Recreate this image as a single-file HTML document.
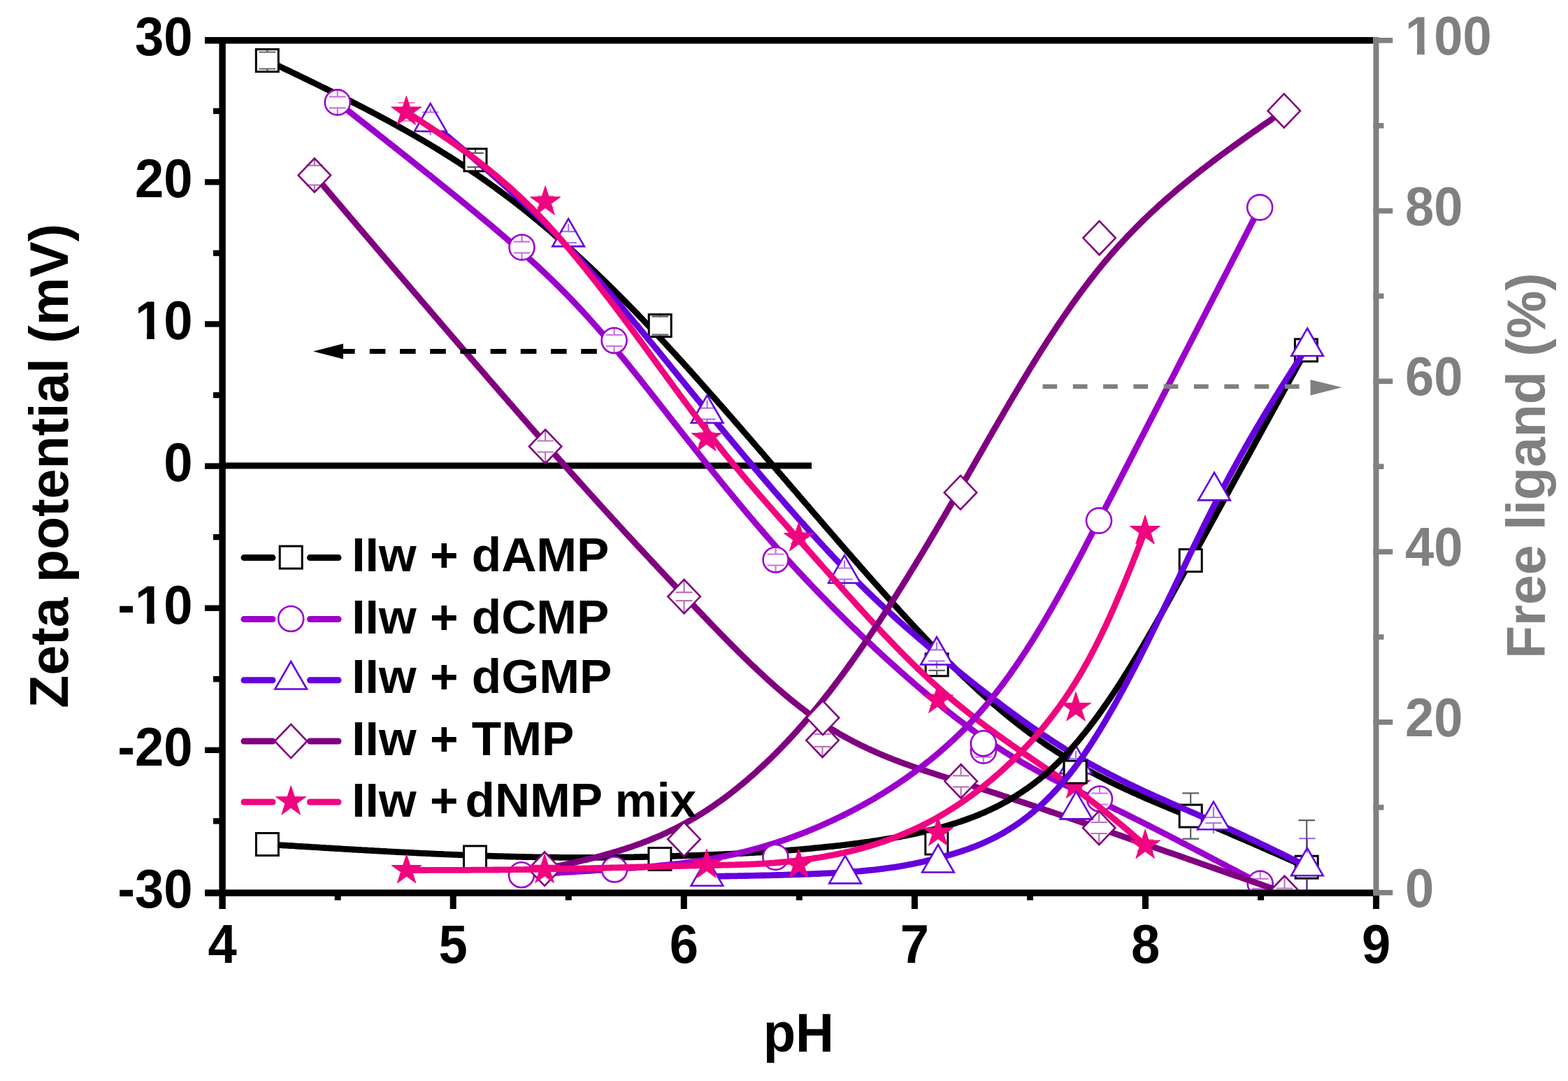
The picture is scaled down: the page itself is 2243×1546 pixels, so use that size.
<!DOCTYPE html>
<html><head><meta charset="utf-8"><title>Zeta potential vs pH</title>
<style>html,body{margin:0;padding:0;background:#fff;}svg{display:block;}</style>
</head><body>
<svg xmlns="http://www.w3.org/2000/svg" width="2243" height="1546" viewBox="0 0 2243 1546"><rect width="2243" height="1546" fill="#fff"/><defs><clipPath id="fr"><rect x="318" y="58" width="1651" height="1219"/></clipPath></defs><g clip-path="url(#fr)"><line x1="318" y1="666" x2="1161" y2="666" stroke="#000" stroke-width="9"/><path d="M382.3 86.5L385.0 87.8L387.7 89.1L390.4 90.4L393.2 91.7L395.9 93.0L398.6 94.3L401.3 95.6L404.0 96.9L406.7 98.2L409.4 99.5L412.1 100.8L414.9 102.1L417.6 103.4L420.3 104.7L423.0 106.0L425.7 107.3L428.4 108.6L431.1 109.9L433.8 111.2L436.5 112.5L439.2 113.8L441.9 115.2L444.6 116.5L447.4 117.8L450.1 119.1L452.8 120.4L455.5 121.7L458.2 123.1L460.9 124.4L463.6 125.7L466.3 127.0L469.0 128.4L471.7 129.7L474.3 131.0L477.0 132.4L479.7 133.7L482.4 135.1L485.1 136.4L487.8 137.8L490.5 139.1L493.2 140.5L495.9 141.8L498.5 143.2L501.2 144.5L503.9 145.9L506.6 147.3L509.3 148.6L511.9 150.0L514.6 151.4L517.3 152.8L520.0 154.1L522.6 155.5L525.3 156.9L528.0 158.3L530.6 159.7L533.3 161.1L535.9 162.5L538.6 163.9L541.3 165.3L543.9 166.8L546.6 168.2L549.2 169.6L551.9 171.0L554.5 172.5L557.2 173.9L559.8 175.3L562.4 176.8L565.1 178.2L567.7 179.7L570.3 181.1L573.0 182.6L575.6 184.1L578.2 185.5L580.8 187.0L583.5 188.5L586.1 190.0L588.7 191.5L591.3 193.0L593.9 194.5L596.5 196.0L599.1 197.5L601.7 199.0L604.3 200.5L606.9 202.0L609.5 203.6L612.1 205.1L614.6 206.6L617.2 208.2L619.8 209.7L622.4 211.3L624.9 212.9L627.5 214.4L630.1 216.0L632.6 217.6L635.2 219.2L637.7 220.8L640.3 222.4L642.8 224.0L645.4 225.6L647.9 227.2L650.4 228.8L653.0 230.4L655.5 232.1L658.0 233.7L660.5 235.3L663.1 237.0L665.6 238.7L668.1 240.3L670.6 242.0L673.1 243.7L675.6 245.3L678.1 247.0L680.5 248.7L683.0 250.4L685.5 252.1L688.0 253.8L690.4 255.6L692.9 257.3L695.4 259.0L697.8 260.8L700.3 262.5L702.7 264.3L705.1 266.0L707.6 267.8L710.0 269.6L712.4 271.3L714.9 273.1L717.3 274.9L719.7 276.7L722.1 278.5L724.5 280.3L726.9 282.1L729.3 283.9L731.7 285.8L734.1 287.6L736.5 289.4L738.8 291.3L741.2 293.1L743.6 295.0L746.0 296.8L748.3 298.7L750.7 300.6L753.0 302.4L755.4 304.3L757.7 306.2L760.0 308.1L762.4 310.0L764.7 311.9L767.0 313.8L769.3 315.7L771.7 317.6L774.0 319.6L776.3 321.5L778.6 323.4L780.9 325.4L783.2 327.3L785.5 329.3L787.8 331.2L790.0 333.2L792.3 335.1L794.6 337.1L796.9 339.1L799.1 341.1L801.4 343.0L803.6 345.0L805.9 347.0L808.1 349.0L810.4 351.0L812.6 353.0L814.9 355.0L817.1 357.1L819.3 359.1L821.6 361.1L823.8 363.1L826.0 365.2L828.2 367.2L830.4 369.2L832.6 371.3L834.8 373.3L837.0 375.4L839.2 377.4L841.4 379.5L843.6 381.6L845.8 383.6L848.0 385.7L850.2 387.8L852.3 389.8L854.5 391.9L856.7 394.0L858.8 396.1L861.0 398.2L863.2 400.3L865.3 402.4L867.5 404.5L869.6 406.6L871.8 408.7L873.9 410.8L876.0 412.9L878.2 415.0L880.3 417.2L882.4 419.3L884.6 421.4L886.7 423.5L888.8 425.7L890.9 427.8L893.0 429.9L895.2 432.1L897.3 434.2L899.4 436.4L901.5 438.5L903.6 440.7L905.7 442.8L907.8 445.0L909.9 447.1L912.0 449.3L914.0 451.5L916.1 453.6L918.2 455.8L920.3 458.0L922.4 460.2L924.4 462.3L926.5 464.5L928.6 466.7L930.7 468.9L932.7 471.1L934.8 473.3L936.8 475.4L938.9 477.6L941.0 479.8L943.0 482.0L945.1 484.2L947.1 486.4L949.2 488.6L951.2 490.8L953.3 493.0L955.3 495.3L957.3 497.5L959.4 499.7L961.4 501.9L963.4 504.1L965.5 506.3L967.5 508.5L969.5 510.8L971.6 513.0L973.6 515.2L975.6 517.4L977.6 519.7L979.6 521.9L981.7 524.1L983.7 526.4L985.7 528.6L987.7 530.8L989.7 533.1L991.7 535.3L993.7 537.6L995.7 539.8L997.7 542.0L999.7 544.3L1001.7 546.5L1003.7 548.8L1005.7 551.0L1007.7 553.3L1009.7 555.5L1011.7 557.8L1013.7 560.0L1015.7 562.3L1017.7 564.5L1019.7 566.8L1021.7 569.0L1023.7 571.3L1025.7 573.5L1027.6 575.8L1029.6 578.1L1031.6 580.3L1033.6 582.6L1035.6 584.8L1037.6 587.1L1039.5 589.4L1041.5 591.6L1043.5 593.9L1045.5 596.2L1047.5 598.4L1049.4 600.7L1051.4 603.0L1053.4 605.2L1055.4 607.5L1057.3 609.8L1059.3 612.0L1061.3 614.3L1063.2 616.6L1065.2 618.9L1067.2 621.1L1069.2 623.4L1071.1 625.7L1073.1 627.9L1075.1 630.2L1077.0 632.5L1079.0 634.8L1081.0 637.0L1082.9 639.3L1084.9 641.6L1086.9 643.9L1088.8 646.2L1090.8 648.4L1092.8 650.7L1094.7 653.0L1096.7 655.3L1098.7 657.5L1100.6 659.8L1102.6 662.1L1104.5 664.4L1106.5 666.7L1108.5 668.9L1110.4 671.2L1112.4 673.5L1114.4 675.8L1116.3 678.1L1118.3 680.3L1120.2 682.6L1122.2 684.9L1124.2 687.2L1126.1 689.5L1128.1 691.7L1130.1 694.0L1132.0 696.3L1134.0 698.6L1135.9 700.9L1137.9 703.1L1139.9 705.4L1141.8 707.7L1143.8 710.0L1145.7 712.3L1147.7 714.5L1149.7 716.8L1151.6 719.1L1153.6 721.4L1155.6 723.7L1157.5 725.9L1159.5 728.2L1161.4 730.5L1163.4 732.8L1165.4 735.1L1167.3 737.3L1169.3 739.6L1171.3 741.9L1173.2 744.2L1175.2 746.4L1177.1 748.7L1179.1 751.0L1181.1 753.3L1183.0 755.5L1185.0 757.8L1187.0 760.1L1188.9 762.4L1190.9 764.6L1192.9 766.9L1194.9 769.2L1196.8 771.5L1198.8 773.7L1200.8 776.0L1202.7 778.3L1204.7 780.6L1206.7 782.8L1208.7 785.1L1210.6 787.4L1212.6 789.6L1214.6 791.9L1216.6 794.2L1218.5 796.4L1220.5 798.7L1222.5 801.0L1224.5 803.2L1226.5 805.5L1228.4 807.7L1230.4 810.0L1232.4 812.3L1234.4 814.5L1236.4 816.8L1238.4 819.0L1240.4 821.3L1242.3 823.6L1244.3 825.8L1246.3 828.1L1248.3 830.3L1250.3 832.6L1252.3 834.8L1254.3 837.1L1256.3 839.3L1258.3 841.6L1260.3 843.8L1262.3 846.1L1264.3 848.3L1266.3 850.5L1268.3 852.8L1270.3 855.0L1272.3 857.2L1274.4 859.5L1276.4 861.7L1278.4 863.9L1280.4 866.2L1282.4 868.4L1284.5 870.6L1286.5 872.9L1288.5 875.1L1290.5 877.3L1292.6 879.5L1294.6 881.7L1296.6 883.9L1298.7 886.2L1300.7 888.4L1302.8 890.6L1304.8 892.8L1306.9 895.0L1308.9 897.2L1311.0 899.4L1313.0 901.6L1315.1 903.8L1317.2 905.9L1319.2 908.1L1321.3 910.3L1323.4 912.5L1325.4 914.7L1327.5 916.8L1329.6 919.0L1331.7 921.2L1333.8 923.3L1335.9 925.5L1338.0 927.6L1340.1 929.8L1342.2 932.0L1344.3 934.1L1346.4 936.2L1348.5 938.4L1350.6 940.5L1352.7 942.6L1354.9 944.8L1357.0 946.9L1359.1 949.0L1361.3 951.1L1363.4 953.2L1365.6 955.3L1367.7 957.5L1369.9 959.5L1372.0 961.6L1374.2 963.7L1376.4 965.8L1378.5 967.9L1380.7 970.0L1382.9 972.0L1385.1 974.1L1387.3 976.2L1389.5 978.2L1391.7 980.3L1393.9 982.3L1396.1 984.4L1398.3 986.4L1400.5 988.4L1402.7 990.4L1405.0 992.5L1407.2 994.5L1409.5 996.5L1411.7 998.5L1414.0 1000.5L1416.2 1002.5L1418.5 1004.4L1420.7 1006.4L1423.0 1008.4L1425.3 1010.3L1427.6 1012.3L1429.9 1014.2L1432.2 1016.2L1434.5 1018.1L1436.8 1020.0L1439.1 1021.9L1441.4 1023.8L1443.8 1025.7L1446.1 1027.6L1448.5 1029.5L1450.8 1031.4L1453.2 1033.3L1455.5 1035.1L1457.9 1037.0L1460.3 1038.8L1462.7 1040.6L1465.1 1042.5L1467.5 1044.3L1469.9 1046.1L1472.3 1047.9L1474.7 1049.7L1477.1 1051.4L1479.6 1053.2L1482.0 1055.0L1484.5 1056.7L1486.9 1058.4L1489.4 1060.2L1491.9 1061.9L1494.3 1063.6L1496.8 1065.3L1499.3 1067.0L1501.8 1068.6L1504.3 1070.3L1506.8 1071.9L1509.3 1073.6L1511.9 1075.2L1514.4 1076.8L1517.0 1078.4L1519.5 1080.0L1522.1 1081.6L1524.6 1083.2L1527.2 1084.8L1529.8 1086.3L1532.3 1087.9L1534.9 1089.4L1537.5 1090.9L1540.1 1092.4L1542.7 1093.9L1545.3 1095.4L1548.0 1096.9L1550.6 1098.4L1553.2 1099.9L1555.8 1101.3L1558.5 1102.8L1561.1 1104.2L1563.8 1105.6L1566.4 1107.0L1569.1 1108.4L1571.7 1109.8L1574.4 1111.2L1577.1 1112.6L1579.8 1114.0L1582.5 1115.3L1585.1 1116.7L1587.8 1118.0L1590.5 1119.3L1593.2 1120.6L1595.9 1122.0L1598.7 1123.3L1601.4 1124.6L1604.1 1125.8L1606.8 1127.1L1609.5 1128.4L1612.3 1129.6L1615.0 1130.9L1617.7 1132.1L1620.5 1133.4L1623.2 1134.6L1626.0 1135.8L1628.7 1137.1L1631.5 1138.3L1634.2 1139.5L1637.0 1140.7L1639.7 1141.9L1642.5 1143.1L1645.3 1144.3L1648.0 1145.4L1650.8 1146.6L1653.6 1147.8L1656.3 1149.0L1659.1 1150.1L1661.9 1151.3L1664.7 1152.4L1667.4 1153.6L1670.2 1154.8L1673.0 1155.9L1675.8 1157.1L1678.6 1158.2L1681.3 1159.4L1684.1 1160.5L1686.9 1161.7L1689.7 1162.8L1692.5 1164.0L1695.2 1165.1L1698.0 1166.3L1700.8 1167.4L1703.6 1168.6L1706.3 1169.7L1709.1 1170.9L1711.9 1172.0L1714.7 1173.2L1717.4 1174.4L1720.2 1175.5L1723.0 1176.7L1725.8 1177.9L1728.5 1179.0L1731.3 1180.2L1734.1 1181.4L1736.8 1182.5L1739.6 1183.7L1742.4 1184.9L1745.1 1186.1L1747.9 1187.3L1750.7 1188.4L1753.4 1189.6L1756.2 1190.8L1759.0 1192.0L1761.7 1193.2L1764.5 1194.4L1767.3 1195.6L1770.0 1196.8L1772.8 1198.0L1775.5 1199.2L1778.3 1200.3L1781.1 1201.5L1783.8 1202.7L1786.6 1203.9L1789.3 1205.1L1792.1 1206.3L1794.8 1207.5L1797.6 1208.7L1800.4 1209.9L1803.1 1211.1L1805.9 1212.4L1808.6 1213.6L1811.4 1214.8L1814.1 1216.0L1816.9 1217.2L1819.7 1218.4L1822.4 1219.6L1825.2 1220.8L1827.9 1222.0L1830.7 1223.2L1833.4 1224.4L1836.2 1225.6L1838.9 1226.9L1841.7 1228.1L1844.4 1229.3L1847.2 1230.5L1849.9 1231.7L1852.7 1232.9L1855.4 1234.1L1858.2 1235.3L1860.9 1236.6L1863.7 1237.8L1866.4 1239.0L1869.2 1240.2" fill="none" stroke="#000000" stroke-width="8.8" stroke-linejoin="round" stroke-linecap="butt"/><rect x="366.3" y="70.5" width="32.0" height="32.0" fill="#fff" stroke="#000000" stroke-width="3"/><rect x="664.0" y="212.8" width="32.0" height="32.0" fill="#fff" stroke="#000000" stroke-width="3"/><rect x="928.2" y="449.7" width="32.0" height="32.0" fill="#fff" stroke="#000000" stroke-width="3"/><rect x="1324.1" y="934.8" width="32.0" height="32.0" fill="#fff" stroke="#000000" stroke-width="3"/><rect x="1522.1" y="1086.6" width="32.0" height="32.0" fill="#fff" stroke="#000000" stroke-width="3"/><rect x="1687.2" y="1151.0" width="32.0" height="32.0" fill="#fff" stroke="#000000" stroke-width="3"/><rect x="1853.2" y="1224.2" width="32.0" height="32.0" fill="#fff" stroke="#000000" stroke-width="3"/><path d="M382.3 69.0L382.3 74.5M370.5 74.5L394.1 74.5M382.3 104.0L382.3 98.5M370.5 98.5L394.1 98.5M680.0 211.3L680.0 218.8M668.2 218.8L691.8 218.8M680.0 246.3L680.0 238.8M668.2 238.8L691.8 238.8M944.2 448.2L944.2 452.7M932.4 452.7L956.0 452.7M944.2 483.2L944.2 478.7M932.4 478.7L956.0 478.7M1340.1 933.3L1340.1 942.8M1328.3 942.8L1351.9 942.8M1340.1 968.3L1340.1 958.8M1328.3 958.8L1351.9 958.8M1538.1 1085.1L1538.1 1094.6M1526.3 1094.6L1549.9 1094.6M1538.1 1120.1L1538.1 1110.6M1526.3 1110.6L1549.9 1110.6M1703.2 1149.5L1703.2 1134.3M1691.4 1134.3L1715.0 1134.3M1703.2 1184.5L1703.2 1199.7M1691.4 1199.7L1715.0 1199.7M1869.2 1222.7L1869.2 1173.2M1857.4 1173.2L1881.0 1173.2M1869.2 1257.7L1869.2 1307.2M1857.4 1307.2L1881.0 1307.2" stroke="#000" stroke-opacity="0.62" stroke-width="2.2" fill="none"/><path d="M482.8 146.4L485.2 148.3L487.5 150.1L489.9 152.0L492.3 153.8L494.6 155.7L497.0 157.5L499.3 159.4L501.7 161.3L504.1 163.1L506.4 165.0L508.8 166.8L511.1 168.7L513.5 170.6L515.9 172.4L518.2 174.3L520.6 176.1L523.0 178.0L525.3 179.8L527.7 181.7L530.0 183.6L532.4 185.4L534.8 187.3L537.1 189.1L539.5 191.0L541.8 192.9L544.2 194.7L546.6 196.6L548.9 198.5L551.3 200.3L553.6 202.2L556.0 204.0L558.3 205.9L560.7 207.8L563.1 209.6L565.4 211.5L567.8 213.4L570.1 215.2L572.5 217.1L574.8 219.0L577.2 220.8L579.5 222.7L581.9 224.6L584.3 226.4L586.6 228.3L589.0 230.2L591.3 232.1L593.7 233.9L596.0 235.8L598.4 237.7L600.7 239.6L603.1 241.4L605.4 243.3L607.8 245.2L610.1 247.1L612.4 248.9L614.8 250.8L617.1 252.7L619.5 254.6L621.8 256.5L624.2 258.3L626.5 260.2L628.8 262.1L631.2 264.0L633.5 265.9L635.9 267.8L638.2 269.7L640.5 271.6L642.9 273.4L645.2 275.3L647.5 277.2L649.9 279.1L652.2 281.0L654.5 282.9L656.9 284.8L659.2 286.7L661.5 288.6L663.8 290.5L666.2 292.4L668.5 294.3L670.8 296.2L673.1 298.2L675.4 300.1L677.8 302.0L680.1 303.9L682.4 305.8L684.7 307.7L687.0 309.7L689.3 311.6L691.6 313.5L693.9 315.4L696.3 317.4L698.6 319.3L700.9 321.2L703.2 323.1L705.5 325.1L707.8 327.0L710.0 329.0L712.3 330.9L714.6 332.9L716.9 334.8L719.2 336.8L721.5 338.7L723.8 340.7L726.0 342.6L728.3 344.6L730.6 346.6L732.9 348.5L735.1 350.5L737.4 352.5L739.6 354.5L741.9 356.5L744.2 358.4L746.4 360.4L748.7 362.4L750.9 364.4L753.1 366.4L755.4 368.4L757.6 370.5L759.8 372.5L762.1 374.5L764.3 376.5L766.5 378.6L768.7 380.6L770.9 382.6L773.1 384.7L775.3 386.7L777.5 388.8L779.7 390.9L781.8 392.9L784.0 395.0L786.2 397.1L788.4 399.2L790.5 401.3L792.7 403.3L794.8 405.5L797.0 407.6L799.1 409.7L801.2 411.8L803.3 413.9L805.5 416.1L807.6 418.2L809.7 420.3L811.8 422.5L813.9 424.6L816.0 426.8L818.1 429.0L820.1 431.1L822.2 433.3L824.3 435.5L826.3 437.7L828.4 439.9L830.4 442.1L832.5 444.3L834.5 446.5L836.5 448.7L838.6 450.9L840.6 453.2L842.6 455.4L844.6 457.6L846.6 459.9L848.6 462.1L850.6 464.4L852.6 466.6L854.6 468.9L856.5 471.1L858.5 473.4L860.5 475.7L862.5 477.9L864.4 480.2L866.4 482.5L868.3 484.8L870.3 487.1L872.2 489.4L874.1 491.7L876.1 494.0L878.0 496.3L879.9 498.6L881.8 500.9L883.8 503.2L885.7 505.5L887.6 507.9L889.5 510.2L891.4 512.5L893.3 514.8L895.2 517.2L897.1 519.5L899.0 521.8L900.9 524.2L902.7 526.5L904.6 528.9L906.5 531.2L908.4 533.5L910.3 535.9L912.1 538.2L914.0 540.6L915.9 542.9L917.7 545.3L919.6 547.7L921.5 550.0L923.3 552.4L925.2 554.7L927.1 557.1L928.9 559.4L930.8 561.8L932.7 564.2L934.5 566.5L936.4 568.9L938.2 571.3L940.1 573.6L941.9 576.0L943.8 578.3L945.6 580.7L947.5 583.1L949.4 585.4L951.2 587.8L953.1 590.2L954.9 592.5L956.8 594.9L958.6 597.3L960.5 599.6L962.3 602.0L964.2 604.4L966.0 606.7L967.9 609.1L969.8 611.4L971.6 613.8L973.5 616.2L975.3 618.5L977.2 620.9L979.0 623.3L980.9 625.6L982.8 628.0L984.6 630.3L986.5 632.7L988.4 635.1L990.2 637.4L992.1 639.8L993.9 642.1L995.8 644.5L997.7 646.8L999.5 649.2L1001.4 651.5L1003.3 653.9L1005.2 656.2L1007.0 658.6L1008.9 660.9L1010.8 663.3L1012.7 665.6L1014.5 668.0L1016.4 670.3L1018.3 672.7L1020.2 675.0L1022.1 677.4L1024.0 679.7L1025.9 682.0L1027.7 684.4L1029.6 686.7L1031.5 689.0L1033.4 691.4L1035.3 693.7L1037.2 696.0L1039.1 698.4L1041.0 700.7L1042.9 703.0L1044.8 705.3L1046.7 707.7L1048.7 710.0L1050.6 712.3L1052.5 714.6L1054.4 716.9L1056.3 719.2L1058.2 721.5L1060.2 723.8L1062.1 726.2L1064.0 728.5L1066.0 730.8L1067.9 733.1L1069.8 735.4L1071.8 737.7L1073.7 740.0L1075.6 742.2L1077.6 744.5L1079.5 746.8L1081.5 749.1L1083.4 751.4L1085.4 753.7L1087.4 756.0L1089.3 758.2L1091.3 760.5L1093.3 762.8L1095.2 765.0L1097.2 767.3L1099.2 769.6L1101.2 771.8L1103.1 774.1L1105.1 776.4L1107.1 778.6L1109.1 780.9L1111.1 783.1L1113.1 785.4L1115.1 787.6L1117.1 789.8L1119.1 792.1L1121.1 794.3L1123.1 796.5L1125.1 798.8L1127.2 801.0L1129.2 803.2L1131.2 805.4L1133.2 807.7L1135.3 809.9L1137.3 812.1L1139.3 814.3L1141.4 816.5L1143.4 818.7L1145.5 820.9L1147.5 823.1L1149.6 825.3L1151.6 827.5L1153.7 829.7L1155.8 831.8L1157.8 834.0L1159.9 836.2L1162.0 838.4L1164.0 840.6L1166.1 842.7L1168.2 844.9L1170.3 847.1L1172.4 849.2L1174.5 851.4L1176.6 853.5L1178.7 855.7L1180.8 857.8L1182.9 860.0L1185.0 862.1L1187.1 864.3L1189.2 866.4L1191.3 868.6L1193.4 870.7L1195.5 872.8L1197.7 874.9L1199.8 877.1L1201.9 879.2L1204.0 881.3L1206.2 883.4L1208.3 885.5L1210.5 887.7L1212.6 889.8L1214.7 891.9L1216.9 894.0L1219.0 896.1L1221.2 898.2L1223.4 900.3L1225.5 902.3L1227.7 904.4L1229.8 906.5L1232.0 908.6L1234.2 910.7L1236.4 912.7L1238.5 914.8L1240.7 916.9L1242.9 918.9L1245.1 921.0L1247.3 923.1L1249.5 925.1L1251.7 927.2L1253.9 929.2L1256.1 931.3L1258.3 933.3L1260.5 935.4L1262.7 937.4L1264.9 939.4L1267.1 941.5L1269.3 943.5L1271.6 945.5L1273.8 947.5L1276.0 949.5L1278.2 951.5L1280.5 953.6L1282.7 955.6L1285.0 957.6L1287.2 959.6L1289.4 961.6L1291.7 963.5L1294.0 965.5L1296.2 967.5L1298.5 969.5L1300.7 971.5L1303.0 973.4L1305.3 975.4L1307.5 977.4L1309.8 979.3L1312.1 981.3L1314.4 983.2L1316.7 985.2L1319.0 987.1L1321.3 989.1L1323.6 991.0L1325.9 992.9L1328.2 994.9L1330.5 996.8L1332.8 998.7L1335.1 1000.6L1337.4 1002.5L1339.8 1004.4L1342.1 1006.3L1344.4 1008.2L1346.8 1010.1L1349.1 1012.0L1351.5 1013.9L1353.8 1015.7L1356.2 1017.6L1358.5 1019.5L1360.9 1021.3L1363.3 1023.2L1365.6 1025.0L1368.0 1026.9L1370.4 1028.7L1372.8 1030.5L1375.2 1032.3L1377.6 1034.1L1380.0 1035.9L1382.4 1037.7L1384.8 1039.5L1387.2 1041.3L1389.7 1043.1L1392.1 1044.8L1394.5 1046.6L1397.0 1048.3L1399.4 1050.1L1401.9 1051.8L1404.3 1053.5L1406.8 1055.3L1409.3 1057.0L1411.8 1058.7L1414.2 1060.4L1416.7 1062.0L1419.2 1063.7L1421.7 1065.4L1424.2 1067.0L1426.8 1068.7L1429.3 1070.3L1431.8 1071.9L1434.3 1073.5L1436.9 1075.2L1439.4 1076.7L1442.0 1078.3L1444.5 1079.9L1447.1 1081.5L1449.7 1083.0L1452.3 1084.6L1454.8 1086.1L1457.4 1087.6L1460.0 1089.1L1462.6 1090.7L1465.2 1092.1L1467.8 1093.6L1470.5 1095.1L1473.1 1096.6L1475.7 1098.0L1478.4 1099.5L1481.0 1100.9L1483.6 1102.3L1486.3 1103.8L1488.9 1105.2L1491.6 1106.6L1494.3 1108.0L1496.9 1109.3L1499.6 1110.7L1502.3 1112.1L1505.0 1113.5L1507.6 1114.8L1510.3 1116.2L1513.0 1117.5L1515.7 1118.8L1518.4 1120.2L1521.1 1121.5L1523.8 1122.8L1526.5 1124.1L1529.2 1125.4L1531.9 1126.7L1534.6 1128.0L1537.3 1129.3L1540.1 1130.6L1542.8 1131.9L1545.5 1133.2L1548.2 1134.5L1550.9 1135.8L1553.6 1137.0L1556.4 1138.3L1559.1 1139.6L1561.8 1140.9L1564.5 1142.2L1567.2 1143.5L1569.9 1144.7L1572.7 1146.0L1575.4 1147.3L1578.1 1148.6L1580.8 1149.9L1583.5 1151.2L1586.2 1152.5L1588.9 1153.8L1591.6 1155.1L1594.3 1156.4L1597.0 1157.8L1599.7 1159.1L1602.4 1160.4L1605.1 1161.7L1607.8 1163.0L1610.5 1164.4L1613.2 1165.7L1615.9 1167.0L1618.6 1168.4L1621.3 1169.7L1624.0 1171.1L1626.7 1172.4L1629.4 1173.7L1632.0 1175.1L1634.7 1176.4L1637.4 1177.8L1640.1 1179.1L1642.8 1180.5L1645.5 1181.9L1648.1 1183.2L1650.8 1184.6L1653.5 1185.9L1656.2 1187.3L1658.9 1188.7L1661.5 1190.0L1664.2 1191.4L1666.9 1192.8L1669.6 1194.1L1672.2 1195.5L1674.9 1196.9L1677.6 1198.3L1680.3 1199.6L1682.9 1201.0L1685.6 1202.4L1688.3 1203.8L1690.9 1205.2L1693.6 1206.5L1696.3 1207.9L1698.9 1209.3L1701.6 1210.7L1704.3 1212.1L1706.9 1213.5L1709.6 1214.9L1712.3 1216.2L1714.9 1217.6L1717.6 1219.0L1720.3 1220.4L1722.9 1221.8L1725.6 1223.2L1728.2 1224.6L1730.9 1226.0L1733.6 1227.4L1736.2 1228.8L1738.9 1230.2L1741.6 1231.6L1744.2 1233.0L1746.9 1234.4L1749.5 1235.8L1752.2 1237.2L1754.9 1238.6L1757.5 1240.0L1760.2 1241.4L1762.8 1242.8L1765.5 1244.2L1768.1 1245.6L1770.8 1247.0L1773.5 1248.4L1776.1 1249.8L1778.8 1251.2L1781.4 1252.6L1784.1 1254.0L1786.8 1255.4L1789.4 1256.8L1792.1 1258.2L1794.7 1259.6L1797.4 1261.0L1800.0 1262.4L1802.7 1263.8" fill="none" stroke="#9c00cc" stroke-width="8.8" stroke-linejoin="round" stroke-linecap="butt"/><circle cx="482.8" cy="146.4" r="18" fill="#fff" stroke="#9c00cc" stroke-width="2.6"/><circle cx="746.5" cy="353.7" r="18" fill="#fff" stroke="#9c00cc" stroke-width="2.6"/><circle cx="878.6" cy="487.0" r="18" fill="#fff" stroke="#9c00cc" stroke-width="2.6"/><circle cx="1109.6" cy="800.5" r="18" fill="#fff" stroke="#9c00cc" stroke-width="2.6"/><circle cx="1406.8" cy="1073.7" r="18" fill="#fff" stroke="#9c00cc" stroke-width="2.6"/><circle cx="1573.0" cy="1142.5" r="18" fill="#fff" stroke="#9c00cc" stroke-width="2.6"/><circle cx="1802.7" cy="1263.8" r="18" fill="#fff" stroke="#9c00cc" stroke-width="2.6"/><path d="M482.8 127.4L482.8 138.4M471.0 138.4L494.6 138.4M482.8 165.4L482.8 154.4M471.0 154.4L494.6 154.4M746.5 334.7L746.5 345.7M734.7 345.7L758.3 345.7M746.5 372.7L746.5 361.7M734.7 361.7L758.3 361.7M878.6 468.0L878.6 479.0M866.8 479.0L890.4 479.0M878.6 506.0L878.6 495.0M866.8 495.0L890.4 495.0M1109.6 781.5L1109.6 792.5M1097.8 792.5L1121.4 792.5M1109.6 819.5L1109.6 808.5M1097.8 808.5L1121.4 808.5M1406.8 1054.7L1406.8 1064.7M1395.0 1064.7L1418.6 1064.7M1406.8 1092.7L1406.8 1082.7M1395.0 1082.7L1418.6 1082.7M1573.0 1123.5L1573.0 1134.5M1561.2 1134.5L1584.8 1134.5M1573.0 1161.5L1573.0 1150.5M1561.2 1150.5L1584.8 1150.5M1802.7 1244.8L1802.7 1256.8M1790.9 1256.8L1814.5 1256.8M1802.7 1282.8L1802.7 1270.8M1790.9 1270.8L1814.5 1270.8" stroke="#9c00cc" stroke-opacity="0.55" stroke-width="2.2" fill="none"/><path d="M615.7 174.5L618.0 176.4L620.3 178.4L622.6 180.3L624.9 182.2L627.2 184.1L629.6 186.1L631.9 188.0L634.2 189.9L636.5 191.9L638.8 193.8L641.1 195.7L643.4 197.6L645.7 199.6L648.0 201.5L650.3 203.5L652.6 205.4L654.9 207.3L657.2 209.3L659.5 211.2L661.8 213.1L664.1 215.1L666.4 217.0L668.7 219.0L671.0 220.9L673.3 222.9L675.6 224.8L677.8 226.8L680.1 228.8L682.4 230.7L684.7 232.7L687.0 234.6L689.2 236.6L691.5 238.6L693.8 240.5L696.1 242.5L698.3 244.5L700.6 246.5L702.8 248.5L705.1 250.4L707.4 252.4L709.6 254.4L711.9 256.4L714.1 258.4L716.4 260.4L718.6 262.4L720.9 264.4L723.1 266.4L725.3 268.4L727.6 270.5L729.8 272.5L732.0 274.5L734.2 276.5L736.5 278.6L738.7 280.6L740.9 282.6L743.1 284.7L745.3 286.7L747.5 288.8L749.7 290.8L751.9 292.9L754.1 294.9L756.3 297.0L758.5 299.1L760.6 301.1L762.8 303.2L765.0 305.3L767.2 307.4L769.3 309.5L771.5 311.6L773.6 313.7L775.8 315.8L777.9 317.9L780.1 320.0L782.2 322.1L784.3 324.2L786.5 326.3L788.6 328.5L790.7 330.6L792.8 332.7L795.0 334.9L797.1 337.0L799.2 339.2L801.3 341.3L803.4 343.5L805.5 345.6L807.5 347.8L809.6 350.0L811.7 352.2L813.8 354.3L815.8 356.5L817.9 358.7L820.0 360.9L822.0 363.1L824.1 365.3L826.1 367.5L828.2 369.7L830.2 371.9L832.2 374.1L834.2 376.4L836.3 378.6L838.3 380.8L840.3 383.1L842.3 385.3L844.3 387.5L846.3 389.8L848.3 392.0L850.3 394.3L852.3 396.5L854.3 398.8L856.3 401.0L858.3 403.3L860.3 405.5L862.3 407.8L864.2 410.1L866.2 412.3L868.2 414.6L870.2 416.9L872.1 419.2L874.1 421.4L876.1 423.7L878.0 426.0L880.0 428.3L881.9 430.6L883.9 432.9L885.8 435.2L887.8 437.5L889.7 439.7L891.7 442.0L893.6 444.3L895.5 446.6L897.5 448.9L899.4 451.2L901.3 453.6L903.3 455.9L905.2 458.2L907.1 460.5L909.0 462.8L911.0 465.1L912.9 467.4L914.8 469.7L916.7 472.0L918.6 474.4L920.6 476.7L922.5 479.0L924.4 481.3L926.3 483.6L928.2 486.0L930.1 488.3L932.0 490.6L933.9 492.9L935.9 495.3L937.8 497.6L939.7 499.9L941.6 502.2L943.5 504.6L945.4 506.9L947.3 509.2L949.2 511.6L951.1 513.9L953.0 516.2L954.9 518.6L956.8 520.9L958.7 523.2L960.6 525.5L962.5 527.9L964.4 530.2L966.3 532.5L968.2 534.9L970.1 537.2L972.0 539.5L973.9 541.9L975.8 544.2L977.7 546.5L979.6 548.9L981.5 551.2L983.4 553.5L985.3 555.9L987.2 558.2L989.1 560.5L991.0 562.9L992.9 565.2L994.8 567.5L996.7 569.9L998.6 572.2L1000.5 574.5L1002.4 576.9L1004.3 579.2L1006.2 581.5L1008.1 583.8L1010.0 586.2L1011.9 588.5L1013.8 590.8L1015.7 593.1L1017.6 595.5L1019.6 597.8L1021.5 600.1L1023.4 602.4L1025.3 604.7L1027.2 607.1L1029.1 609.4L1031.0 611.7L1033.0 614.0L1034.9 616.3L1036.8 618.6L1038.7 621.0L1040.6 623.3L1042.6 625.6L1044.5 627.9L1046.4 630.2L1048.3 632.5L1050.3 634.8L1052.2 637.1L1054.1 639.4L1056.1 641.7L1058.0 644.0L1059.9 646.3L1061.9 648.7L1063.8 651.0L1065.7 653.3L1067.7 655.6L1069.6 657.9L1071.6 660.1L1073.5 662.4L1075.5 664.7L1077.4 667.0L1079.3 669.3L1081.3 671.6L1083.2 673.9L1085.2 676.2L1087.1 678.5L1089.1 680.8L1091.1 683.1L1093.0 685.3L1095.0 687.6L1096.9 689.9L1098.9 692.2L1100.9 694.5L1102.8 696.8L1104.8 699.0L1106.7 701.3L1108.7 703.6L1110.7 705.9L1112.7 708.1L1114.6 710.4L1116.6 712.7L1118.6 714.9L1120.6 717.2L1122.5 719.5L1124.5 721.7L1126.5 724.0L1128.5 726.2L1130.5 728.5L1132.5 730.8L1134.5 733.0L1136.5 735.3L1138.4 737.5L1140.4 739.8L1142.4 742.0L1144.4 744.3L1146.4 746.5L1148.5 748.7L1150.5 751.0L1152.5 753.2L1154.5 755.5L1156.5 757.7L1158.5 759.9L1160.5 762.2L1162.5 764.4L1164.6 766.6L1166.6 768.8L1168.6 771.1L1170.7 773.3L1172.7 775.5L1174.7 777.7L1176.8 779.9L1178.8 782.1L1180.8 784.3L1182.9 786.5L1184.9 788.7L1187.0 790.9L1189.1 793.1L1191.1 795.3L1193.2 797.5L1195.2 799.7L1197.3 801.9L1199.4 804.1L1201.5 806.2L1203.5 808.4L1205.6 810.6L1207.7 812.7L1209.8 814.9L1211.9 817.1L1214.0 819.2L1216.1 821.4L1218.2 823.5L1220.3 825.7L1222.4 827.8L1224.6 829.9L1226.7 832.1L1228.8 834.2L1230.9 836.3L1233.1 838.4L1235.2 840.5L1237.4 842.7L1239.5 844.8L1241.7 846.9L1243.8 849.0L1246.0 851.0L1248.1 853.1L1250.3 855.2L1252.5 857.3L1254.7 859.4L1256.9 861.4L1259.0 863.5L1261.2 865.6L1263.4 867.6L1265.6 869.7L1267.8 871.7L1270.1 873.7L1272.3 875.8L1274.5 877.8L1276.7 879.8L1278.9 881.9L1281.2 883.9L1283.4 885.9L1285.6 887.9L1287.9 889.9L1290.1 891.9L1292.4 893.9L1294.6 895.9L1296.9 897.9L1299.2 899.9L1301.4 901.8L1303.7 903.8L1306.0 905.8L1308.2 907.7L1310.5 909.7L1312.8 911.7L1315.1 913.6L1317.4 915.6L1319.7 917.5L1322.0 919.5L1324.3 921.4L1326.6 923.4L1328.9 925.3L1331.2 927.2L1333.5 929.2L1335.8 931.1L1338.1 933.0L1340.4 934.9L1342.7 936.9L1345.0 938.8L1347.3 940.7L1349.7 942.6L1352.0 944.5L1354.3 946.4L1356.6 948.3L1359.0 950.2L1361.3 952.1L1363.6 954.0L1366.0 955.9L1368.3 957.8L1370.6 959.7L1373.0 961.6L1375.3 963.5L1377.6 965.4L1380.0 967.3L1382.3 969.2L1384.7 971.0L1387.0 972.9L1389.4 974.8L1391.7 976.7L1394.1 978.5L1396.5 980.4L1398.8 982.3L1401.2 984.1L1403.6 986.0L1405.9 987.8L1408.3 989.7L1410.7 991.5L1413.1 993.4L1415.4 995.2L1417.8 997.0L1420.2 998.9L1422.6 1000.7L1425.0 1002.5L1427.4 1004.3L1429.8 1006.1L1432.2 1008.0L1434.6 1009.8L1437.0 1011.6L1439.4 1013.4L1441.8 1015.1L1444.3 1016.9L1446.7 1018.7L1449.1 1020.5L1451.5 1022.3L1454.0 1024.0L1456.4 1025.8L1458.8 1027.6L1461.3 1029.3L1463.7 1031.1L1466.2 1032.8L1468.6 1034.6L1471.1 1036.3L1473.5 1038.0L1476.0 1039.8L1478.5 1041.5L1481.0 1043.2L1483.4 1044.9L1485.9 1046.6L1488.4 1048.3L1490.9 1050.0L1493.4 1051.6L1495.9 1053.3L1498.4 1055.0L1500.9 1056.7L1503.4 1058.3L1505.9 1060.0L1508.4 1061.6L1511.0 1063.2L1513.5 1064.9L1516.0 1066.5L1518.6 1068.1L1521.1 1069.7L1523.7 1071.3L1526.2 1072.9L1528.8 1074.4L1531.4 1076.0L1533.9 1077.6L1536.5 1079.1L1539.1 1080.7L1541.7 1082.2L1544.3 1083.7L1546.9 1085.2L1549.5 1086.7L1552.1 1088.2L1554.7 1089.7L1557.3 1091.2L1559.9 1092.7L1562.6 1094.1L1565.2 1095.6L1567.9 1097.0L1570.5 1098.4L1573.1 1099.9L1575.8 1101.3L1578.5 1102.7L1581.1 1104.1L1583.8 1105.5L1586.4 1106.9L1589.1 1108.3L1591.8 1109.6L1594.5 1111.0L1597.2 1112.4L1599.9 1113.7L1602.5 1115.1L1605.2 1116.4L1607.9 1117.7L1610.6 1119.0L1613.3 1120.4L1616.0 1121.7L1618.8 1123.0L1621.5 1124.3L1624.2 1125.6L1626.9 1126.8L1629.6 1128.1L1632.4 1129.4L1635.1 1130.7L1637.8 1131.9L1640.5 1133.2L1643.3 1134.4L1646.0 1135.7L1648.8 1136.9L1651.5 1138.2L1654.2 1139.4L1657.0 1140.6L1659.7 1141.9L1662.5 1143.1L1665.2 1144.3L1668.0 1145.5L1670.7 1146.8L1673.5 1148.0L1676.2 1149.2L1679.0 1150.4L1681.7 1151.6L1684.5 1152.8L1687.2 1154.0L1690.0 1155.2L1692.8 1156.4L1695.5 1157.6L1698.3 1158.8L1701.0 1160.0L1703.8 1161.2L1706.6 1162.4L1709.3 1163.6L1712.1 1164.8L1714.8 1166.0L1717.6 1167.2L1720.3 1168.4L1723.1 1169.7L1725.8 1170.9L1728.6 1172.1L1731.3 1173.3L1734.1 1174.5L1736.8 1175.8L1739.6 1177.0L1742.3 1178.2L1745.1 1179.5L1747.8 1180.7L1750.5 1181.9L1753.3 1183.2L1756.0 1184.4L1758.7 1185.7L1761.5 1186.9L1764.2 1188.2L1766.9 1189.5L1769.7 1190.7L1772.4 1192.0L1775.1 1193.3L1777.9 1194.5L1780.6 1195.8L1783.3 1197.1L1786.0 1198.4L1788.7 1199.7L1791.5 1200.9L1794.2 1202.2L1796.9 1203.5L1799.6 1204.8L1802.3 1206.1L1805.0 1207.4L1807.7 1208.7L1810.5 1210.0L1813.2 1211.3L1815.9 1212.6L1818.6 1213.9L1821.3 1215.3L1824.0 1216.6L1826.7 1217.9L1829.4 1219.2L1832.1 1220.5L1834.8 1221.8L1837.5 1223.2L1840.2 1224.5L1842.9 1225.8L1845.6 1227.1L1848.3 1228.5L1851.0 1229.8L1853.7 1231.1L1856.4 1232.4L1859.1 1233.8L1861.8 1235.1L1864.5 1236.4L1867.2 1237.8L1869.9 1239.1" fill="none" stroke="#6600dd" stroke-width="8.8" stroke-linejoin="round" stroke-linecap="butt"/><polygon points="615.7,148.2 638.5,187.7 592.9,187.7" fill="#fff" stroke="#6600dd" stroke-width="2.6" stroke-linejoin="miter"/><polygon points="813.1,312.9 835.9,352.4 790.3,352.4" fill="#fff" stroke="#6600dd" stroke-width="2.6" stroke-linejoin="miter"/><polygon points="1011.6,565.3 1034.4,604.8 988.8,604.8" fill="#fff" stroke="#6600dd" stroke-width="2.6" stroke-linejoin="miter"/><polygon points="1208.0,794.2 1230.8,833.7 1185.2,833.7" fill="#fff" stroke="#6600dd" stroke-width="2.6" stroke-linejoin="miter"/><polygon points="1339.9,911.0 1362.7,950.5 1317.1,950.5" fill="#fff" stroke="#6600dd" stroke-width="2.6" stroke-linejoin="miter"/><polygon points="1539.0,1066.7 1561.8,1106.2 1516.2,1106.2" fill="#fff" stroke="#6600dd" stroke-width="2.6" stroke-linejoin="miter"/><polygon points="1735.9,1146.7 1758.7,1186.2 1713.1,1186.2" fill="#fff" stroke="#6600dd" stroke-width="2.6" stroke-linejoin="miter"/><polygon points="1869.9,1212.8 1892.7,1252.3 1847.1,1252.3" fill="#fff" stroke="#6600dd" stroke-width="2.6" stroke-linejoin="miter"/><path d="M615.7 155.5L615.7 160.5M603.9 160.5L627.5 160.5M615.7 193.5L615.7 188.5M603.9 188.5L627.5 188.5M813.1 320.2L813.1 331.2M801.3 331.2L824.9 331.2M813.1 358.2L813.1 347.2M801.3 347.2L824.9 347.2M1011.6 572.6L1011.6 583.6M999.8 583.6L1023.4 583.6M1011.6 610.6L1011.6 599.6M999.8 599.6L1023.4 599.6M1208.0 801.5L1208.0 812.5M1196.2 812.5L1219.8 812.5M1208.0 839.5L1208.0 828.5M1196.2 828.5L1219.8 828.5M1339.9 918.3L1339.9 929.3M1328.1 929.3L1351.7 929.3M1339.9 956.3L1339.9 945.3M1328.1 945.3L1351.7 945.3M1539.0 1074.0L1539.0 1085.0M1527.2 1085.0L1550.8 1085.0M1539.0 1112.0L1539.0 1101.0M1527.2 1101.0L1550.8 1101.0M1735.9 1154.0L1735.9 1169.0M1724.1 1169.0L1747.7 1169.0M1735.9 1192.0L1735.9 1177.0M1724.1 1177.0L1747.7 1177.0M1869.9 1220.1L1869.9 1199.1M1858.1 1199.1L1881.7 1199.1M1869.9 1258.1L1869.9 1279.1M1858.1 1279.1L1881.7 1279.1" stroke="#6600dd" stroke-opacity="0.55" stroke-width="2.2" fill="none"/><path d="M449.9 250.7L451.9 253.0L453.8 255.3L455.8 257.6L457.7 259.9L459.7 262.2L461.6 264.4L463.6 266.7L465.5 269.0L467.5 271.3L469.4 273.6L471.4 275.9L473.3 278.2L475.3 280.5L477.2 282.8L479.2 285.1L481.1 287.4L483.1 289.7L485.0 291.9L487.0 294.2L488.9 296.5L490.9 298.8L492.8 301.1L494.8 303.4L496.7 305.7L498.7 308.0L500.6 310.3L502.6 312.6L504.5 314.9L506.5 317.1L508.4 319.4L510.4 321.7L512.3 324.0L514.3 326.3L516.3 328.6L518.2 330.9L520.2 333.2L522.1 335.5L524.1 337.8L526.0 340.1L528.0 342.3L529.9 344.6L531.9 346.9L533.8 349.2L535.8 351.5L537.7 353.8L539.7 356.1L541.6 358.4L543.6 360.7L545.5 363.0L547.5 365.2L549.5 367.5L551.4 369.8L553.4 372.1L555.3 374.4L557.3 376.7L559.2 379.0L561.2 381.3L563.1 383.6L565.1 385.8L567.0 388.1L569.0 390.4L570.9 392.7L572.9 395.0L574.9 397.3L576.8 399.6L578.8 401.9L580.7 404.1L582.7 406.4L584.6 408.7L586.6 411.0L588.5 413.3L590.5 415.6L592.5 417.9L594.4 420.2L596.4 422.4L598.3 424.7L600.3 427.0L602.2 429.3L604.2 431.6L606.2 433.9L608.1 436.2L610.1 438.4L612.0 440.7L614.0 443.0L616.0 445.3L617.9 447.6L619.9 449.9L621.8 452.2L623.8 454.4L625.7 456.7L627.7 459.0L629.7 461.3L631.6 463.6L633.6 465.9L635.5 468.1L637.5 470.4L639.5 472.7L641.4 475.0L643.4 477.3L645.4 479.6L647.3 481.8L649.3 484.1L651.2 486.4L653.2 488.7L655.2 491.0L657.1 493.3L659.1 495.5L661.1 497.8L663.0 500.1L665.0 502.4L667.0 504.7L668.9 506.9L670.9 509.2L672.8 511.5L674.8 513.8L676.8 516.0L678.7 518.3L680.7 520.6L682.7 522.9L684.6 525.2L686.6 527.4L688.6 529.7L690.6 532.0L692.5 534.3L694.5 536.5L696.5 538.8L698.4 541.1L700.4 543.4L702.4 545.6L704.3 547.9L706.3 550.2L708.3 552.5L710.3 554.7L712.2 557.0L714.2 559.3L716.2 561.6L718.2 563.8L720.1 566.1L722.1 568.4L724.1 570.6L726.1 572.9L728.0 575.2L730.0 577.4L732.0 579.7L734.0 582.0L735.9 584.3L737.9 586.5L739.9 588.8L741.9 591.1L743.9 593.3L745.8 595.6L747.8 597.9L749.8 600.1L751.8 602.4L753.8 604.6L755.8 606.9L757.7 609.2L759.7 611.4L761.7 613.7L763.7 616.0L765.7 618.2L767.7 620.5L769.7 622.7L771.7 625.0L773.6 627.2L775.6 629.5L777.6 631.8L779.6 634.0L781.6 636.3L783.6 638.5L785.6 640.8L787.6 643.0L789.6 645.3L791.6 647.5L793.6 649.8L795.6 652.0L797.6 654.3L799.6 656.5L801.6 658.8L803.6 661.0L805.6 663.3L807.6 665.5L809.6 667.8L811.6 670.0L813.6 672.3L815.6 674.5L817.6 676.8L819.6 679.0L821.6 681.2L823.6 683.5L825.6 685.7L827.7 688.0L829.7 690.2L831.7 692.4L833.7 694.7L835.7 696.9L837.7 699.2L839.7 701.4L841.7 703.6L843.8 705.9L845.8 708.1L847.8 710.3L849.8 712.6L851.8 714.8L853.9 717.0L855.9 719.3L857.9 721.5L859.9 723.7L861.9 725.9L864.0 728.2L866.0 730.4L868.0 732.6L870.1 734.8L872.1 737.1L874.1 739.3L876.1 741.5L878.2 743.7L880.2 745.9L882.2 748.2L884.3 750.4L886.3 752.6L888.3 754.8L890.4 757.0L892.4 759.3L894.4 761.5L896.5 763.7L898.5 765.9L900.6 768.1L902.6 770.3L904.6 772.5L906.7 774.8L908.7 777.0L910.8 779.2L912.8 781.4L914.9 783.6L916.9 785.8L919.0 788.0L921.0 790.2L923.0 792.4L925.1 794.6L927.1 796.8L929.2 799.0L931.2 801.2L933.3 803.4L935.4 805.6L937.4 807.8L939.5 810.0L941.5 812.2L943.6 814.4L945.6 816.6L947.7 818.8L949.7 821.0L951.8 823.2L953.9 825.4L955.9 827.6L958.0 829.8L960.0 832.0L962.1 834.2L964.2 836.4L966.2 838.6L968.3 840.8L970.3 843.0L972.4 845.1L974.5 847.3L976.5 849.5L978.6 851.7L980.7 853.9L982.7 856.1L984.8 858.3L986.9 860.5L988.9 862.7L991.0 864.8L993.1 867.0L995.1 869.2L997.2 871.4L999.3 873.6L1001.4 875.8L1003.4 877.9L1005.5 880.1L1007.6 882.3L1009.7 884.5L1011.7 886.6L1013.8 888.8L1015.9 891.0L1018.0 893.2L1020.1 895.3L1022.2 897.5L1024.3 899.6L1026.4 901.8L1028.5 904.0L1030.6 906.1L1032.7 908.3L1034.8 910.4L1036.9 912.6L1039.0 914.7L1041.1 916.9L1043.2 919.0L1045.4 921.1L1047.5 923.3L1049.6 925.4L1051.7 927.5L1053.9 929.7L1056.0 931.8L1058.1 933.9L1060.3 936.0L1062.4 938.1L1064.6 940.2L1066.7 942.3L1068.9 944.4L1071.1 946.5L1073.2 948.6L1075.4 950.7L1077.6 952.7L1079.8 954.8L1082.0 956.9L1084.2 958.9L1086.3 961.0L1088.6 963.0L1090.8 965.1L1093.0 967.1L1095.2 969.2L1097.4 971.2L1099.6 973.2L1101.9 975.2L1104.1 977.2L1106.4 979.2L1108.6 981.2L1110.9 983.2L1113.2 985.2L1115.4 987.2L1117.7 989.1L1120.0 991.1L1122.3 993.0L1124.6 995.0L1126.9 996.9L1129.2 998.8L1131.6 1000.7L1133.9 1002.6L1136.2 1004.5L1138.6 1006.4L1140.9 1008.3L1143.3 1010.1L1145.7 1012.0L1148.1 1013.8L1150.5 1015.6L1152.9 1017.5L1155.3 1019.3L1157.7 1021.0L1160.1 1022.8L1162.6 1024.6L1165.0 1026.3L1167.5 1028.1L1169.9 1029.8L1172.4 1031.5L1174.9 1033.2L1177.4 1034.9L1179.9 1036.5L1182.4 1038.1L1185.0 1039.8L1187.5 1041.4L1190.1 1043.0L1192.6 1044.5L1195.2 1046.1L1197.8 1047.6L1200.4 1049.2L1203.0 1050.7L1205.6 1052.2L1208.2 1053.6L1210.9 1055.1L1213.5 1056.5L1216.2 1058.0L1218.8 1059.4L1221.5 1060.8L1224.2 1062.1L1226.9 1063.5L1229.5 1064.9L1232.2 1066.2L1235.0 1067.5L1237.7 1068.8L1240.4 1070.1L1243.1 1071.4L1245.9 1072.6L1248.6 1073.8L1251.3 1075.1L1254.1 1076.3L1256.9 1077.5L1259.6 1078.7L1262.4 1079.8L1265.2 1081.0L1268.0 1082.1L1270.8 1083.3L1273.6 1084.4L1276.4 1085.5L1279.2 1086.6L1282.0 1087.6L1284.8 1088.7L1287.6 1089.8L1290.4 1090.8L1293.2 1091.9L1296.1 1092.9L1298.9 1093.9L1301.7 1094.9L1304.6 1095.9L1307.4 1096.9L1310.3 1097.9L1313.1 1098.9L1316.0 1099.8L1318.8 1100.8L1321.7 1101.8L1324.5 1102.7L1327.4 1103.6L1330.2 1104.6L1333.1 1105.5L1336.0 1106.4L1338.8 1107.4L1341.7 1108.3L1344.6 1109.2L1347.4 1110.1L1350.3 1111.0L1353.2 1111.9L1356.0 1112.8L1358.9 1113.7L1361.8 1114.6L1364.7 1115.6L1367.5 1116.5L1370.4 1117.4L1373.3 1118.3L1376.1 1119.2L1379.0 1120.1L1381.9 1121.0L1384.7 1121.9L1387.6 1122.8L1390.5 1123.7L1393.3 1124.7L1396.2 1125.6L1399.1 1126.5L1401.9 1127.4L1404.8 1128.3L1407.7 1129.3L1410.5 1130.2L1413.4 1131.1L1416.3 1132.1L1419.1 1133.0L1422.0 1133.9L1424.8 1134.8L1427.7 1135.8L1430.6 1136.7L1433.4 1137.7L1436.3 1138.6L1439.1 1139.5L1442.0 1140.5L1444.9 1141.4L1447.7 1142.4L1450.6 1143.3L1453.4 1144.3L1456.3 1145.2L1459.1 1146.1L1462.0 1147.1L1464.9 1148.0L1467.7 1149.0L1470.6 1149.9L1473.4 1150.9L1476.3 1151.9L1479.1 1152.8L1482.0 1153.8L1484.8 1154.7L1487.7 1155.7L1490.5 1156.6L1493.4 1157.6L1496.2 1158.6L1499.1 1159.5L1501.9 1160.5L1504.8 1161.5L1507.6 1162.4L1510.5 1163.4L1513.3 1164.4L1516.2 1165.3L1519.0 1166.3L1521.9 1167.3L1524.7 1168.2L1527.6 1169.2L1530.4 1170.2L1533.3 1171.1L1536.1 1172.1L1539.0 1173.1L1541.8 1174.1L1544.7 1175.0L1547.5 1176.0L1550.4 1177.0L1553.2 1178.0L1556.1 1178.9L1558.9 1179.9L1561.8 1180.9L1564.6 1181.9L1567.5 1182.8L1570.3 1183.8L1573.2 1184.8L1576.0 1185.8L1578.8 1186.8L1581.7 1187.7L1584.5 1188.7L1587.4 1189.7L1590.2 1190.7L1593.1 1191.7L1595.9 1192.6L1598.8 1193.6L1601.6 1194.6L1604.5 1195.6L1607.3 1196.6L1610.1 1197.6L1613.0 1198.5L1615.8 1199.5L1618.7 1200.5L1621.5 1201.5L1624.4 1202.5L1627.2 1203.5L1630.1 1204.4L1632.9 1205.4L1635.7 1206.4L1638.6 1207.4L1641.4 1208.4L1644.3 1209.4L1647.1 1210.4L1650.0 1211.4L1652.8 1212.3L1655.6 1213.3L1658.5 1214.3L1661.3 1215.3L1664.2 1216.3L1667.0 1217.3L1669.9 1218.3L1672.7 1219.3L1675.5 1220.2L1678.4 1221.2L1681.2 1222.2L1684.1 1223.2L1686.9 1224.2L1689.8 1225.2L1692.6 1226.2L1695.4 1227.2L1698.3 1228.2L1701.1 1229.2L1704.0 1230.1L1706.8 1231.1L1709.6 1232.1L1712.5 1233.1L1715.3 1234.1L1718.2 1235.1L1721.0 1236.1L1723.9 1237.1L1726.7 1238.1L1729.5 1239.1L1732.4 1240.1L1735.2 1241.0L1738.1 1242.0L1740.9 1243.0L1743.7 1244.0L1746.6 1245.0L1749.4 1246.0L1752.3 1247.0L1755.1 1248.0L1758.0 1249.0L1760.8 1250.0L1763.6 1251.0L1766.5 1252.0L1769.3 1253.0L1772.2 1253.9L1775.0 1254.9L1777.8 1255.9L1780.7 1256.9L1783.5 1257.9L1786.4 1258.9L1789.2 1259.9L1792.0 1260.9L1794.9 1261.9L1797.7 1262.9L1800.6 1263.9L1803.4 1264.9L1806.3 1265.9L1809.1 1266.9L1811.9 1267.9L1814.8 1268.9L1817.6 1269.8L1820.5 1270.8L1823.3 1271.8L1826.1 1272.8L1829.0 1273.8L1831.8 1274.8L1834.7 1275.8L1837.5 1276.8" fill="none" stroke="#800080" stroke-width="8.8" stroke-linejoin="round" stroke-linecap="butt"/><polygon points="449.9,226.5 473.1,250.7 449.9,274.9 426.7,250.7" fill="#fff" stroke="#800080" stroke-width="2.6"/><polygon points="780.1,614.3 803.3,638.5 780.1,662.7 756.9,638.5" fill="#fff" stroke="#800080" stroke-width="2.6"/><polygon points="978.6,828.9 1001.8,853.1 978.6,877.3 955.4,853.1" fill="#fff" stroke="#800080" stroke-width="2.6"/><polygon points="1176.5,1034.6 1199.7,1058.8 1176.5,1083.0 1153.3,1058.8" fill="#fff" stroke="#800080" stroke-width="2.6"/><polygon points="1374.6,1093.1 1397.8,1117.3 1374.6,1141.5 1351.4,1117.3" fill="#fff" stroke="#800080" stroke-width="2.6"/><polygon points="1572.2,1159.8 1595.4,1184.0 1572.2,1208.2 1549.0,1184.0" fill="#fff" stroke="#800080" stroke-width="2.6"/><polygon points="1837.5,1252.6 1860.7,1276.8 1837.5,1301.0 1814.3,1276.8" fill="#fff" stroke="#800080" stroke-width="2.6"/><path d="M449.9 226.7L449.9 236.7M438.1 236.7L461.7 236.7M449.9 274.7L449.9 264.7M438.1 264.7L461.7 264.7M780.1 614.5L780.1 630.5M768.3 630.5L791.9 630.5M780.1 662.5L780.1 646.5M768.3 646.5L791.9 646.5M978.6 829.1L978.6 847.1M966.8 847.1L990.4 847.1M978.6 877.1L978.6 859.1M966.8 859.1L990.4 859.1M1176.5 1034.8L1176.5 1049.8M1164.7 1049.8L1188.3 1049.8M1176.5 1082.8L1176.5 1067.8M1164.7 1067.8L1188.3 1067.8M1374.6 1093.3L1374.6 1109.3M1362.8 1109.3L1386.4 1109.3M1374.6 1141.3L1374.6 1125.3M1362.8 1125.3L1386.4 1125.3M1572.2 1160.0L1572.2 1176.0M1560.4 1176.0L1584.0 1176.0M1572.2 1208.0L1572.2 1192.0M1560.4 1192.0L1584.0 1192.0M1837.5 1252.8L1837.5 1270.5M1825.7 1270.5L1849.3 1270.5M1837.5 1300.8L1837.5 1283.1M1825.7 1283.1L1849.3 1283.1" stroke="#800080" stroke-opacity="0.55" stroke-width="2.2" fill="none"/><path d="M581.3 160.0L583.8 161.6L586.4 163.3L588.9 164.9L591.4 166.5L593.9 168.2L596.5 169.8L599.0 171.5L601.5 173.1L604.0 174.8L606.5 176.4L609.1 178.1L611.6 179.7L614.1 181.4L616.6 183.0L619.1 184.7L621.6 186.4L624.1 188.0L626.6 189.7L629.1 191.4L631.6 193.1L634.1 194.8L636.6 196.5L639.1 198.2L641.6 199.9L644.0 201.6L646.5 203.3L649.0 205.0L651.4 206.8L653.9 208.5L656.3 210.3L658.8 212.0L661.2 213.8L663.7 215.5L666.1 217.3L668.5 219.1L671.0 220.9L673.4 222.7L675.8 224.5L678.2 226.3L680.6 228.1L683.0 229.9L685.4 231.8L687.7 233.6L690.1 235.5L692.5 237.3L694.8 239.2L697.2 241.1L699.5 243.0L701.9 244.9L704.2 246.8L706.5 248.7L708.9 250.6L711.2 252.5L713.5 254.5L715.8 256.4L718.0 258.4L720.3 260.4L722.6 262.3L724.9 264.3L727.1 266.3L729.4 268.3L731.6 270.3L733.9 272.3L736.1 274.4L738.3 276.4L740.5 278.4L742.7 280.5L744.9 282.5L747.1 284.6L749.3 286.7L751.4 288.8L753.6 290.9L755.8 293.0L757.9 295.1L760.1 297.2L762.2 299.3L764.3 301.5L766.4 303.6L768.5 305.8L770.6 307.9L772.7 310.1L774.8 312.3L776.9 314.4L779.0 316.6L781.0 318.8L783.1 321.0L785.1 323.2L787.1 325.4L789.2 327.7L791.2 329.9L793.2 332.1L795.2 334.4L797.2 336.6L799.2 338.9L801.2 341.2L803.2 343.4L805.1 345.7L807.1 348.0L809.1 350.3L811.0 352.6L813.0 354.8L814.9 357.1L816.9 359.4L818.8 361.8L820.7 364.1L822.7 366.4L824.6 368.7L826.5 371.0L828.4 373.4L830.3 375.7L832.2 378.0L834.1 380.4L836.0 382.7L837.9 385.0L839.8 387.4L841.6 389.7L843.5 392.1L845.4 394.5L847.3 396.8L849.1 399.2L851.0 401.5L852.9 403.9L854.7 406.3L856.6 408.7L858.4 411.0L860.3 413.4L862.1 415.8L863.9 418.2L865.8 420.6L867.6 423.0L869.4 425.3L871.3 427.7L873.1 430.1L874.9 432.5L876.7 434.9L878.6 437.3L880.4 439.7L882.2 442.1L884.0 444.5L885.8 446.9L887.6 449.3L889.4 451.8L891.2 454.2L893.0 456.6L894.8 459.0L896.6 461.4L898.4 463.8L900.2 466.2L902.0 468.7L903.8 471.1L905.6 473.5L907.4 475.9L909.2 478.3L911.0 480.8L912.7 483.2L914.5 485.6L916.3 488.0L918.1 490.5L919.9 492.9L921.7 495.3L923.4 497.7L925.2 500.2L927.0 502.6L928.8 505.0L930.5 507.5L932.3 509.9L934.1 512.3L935.9 514.8L937.7 517.2L939.4 519.6L941.2 522.1L943.0 524.5L944.8 526.9L946.5 529.4L948.3 531.8L950.1 534.2L951.9 536.6L953.6 539.1L955.4 541.5L957.2 543.9L959.0 546.4L960.7 548.8L962.5 551.2L964.3 553.7L966.1 556.1L967.9 558.5L969.7 560.9L971.4 563.4L973.2 565.8L975.0 568.2L976.8 570.6L978.6 573.0L980.4 575.5L982.2 577.9L984.0 580.3L985.8 582.7L987.6 585.1L989.4 587.5L991.2 589.9L993.0 592.3L994.8 594.8L996.6 597.2L998.4 599.6L1000.3 602.0L1002.1 604.3L1003.9 606.7L1005.7 609.1L1007.6 611.5L1009.4 613.9L1011.3 616.3L1013.1 618.7L1015.0 621.0L1016.8 623.4L1018.7 625.8L1020.5 628.2L1022.4 630.5L1024.2 632.9L1026.1 635.2L1028.0 637.6L1029.9 640.0L1031.7 642.3L1033.6 644.7L1035.5 647.0L1037.4 649.4L1039.3 651.7L1041.2 654.0L1043.1 656.4L1045.0 658.7L1046.9 661.0L1048.8 663.4L1050.7 665.7L1052.6 668.0L1054.6 670.3L1056.5 672.6L1058.4 674.9L1060.4 677.3L1062.3 679.6L1064.2 681.9L1066.2 684.2L1068.1 686.5L1070.1 688.8L1072.0 691.1L1074.0 693.3L1075.9 695.6L1077.9 697.9L1079.8 700.2L1081.8 702.5L1083.8 704.8L1085.7 707.0L1087.7 709.3L1089.7 711.6L1091.7 713.9L1093.6 716.1L1095.6 718.4L1097.6 720.7L1099.6 722.9L1101.6 725.2L1103.6 727.5L1105.6 729.7L1107.5 732.0L1109.5 734.2L1111.5 736.5L1113.5 738.7L1115.5 741.0L1117.5 743.3L1119.5 745.5L1121.5 747.8L1123.5 750.0L1125.5 752.3L1127.5 754.5L1129.5 756.8L1131.5 759.0L1133.5 761.3L1135.5 763.5L1137.5 765.8L1139.5 768.0L1141.5 770.3L1143.5 772.5L1145.5 774.8L1147.5 777.0L1149.5 779.3L1151.5 781.5L1153.5 783.8L1155.5 786.0L1157.5 788.3L1159.5 790.6L1161.5 792.8L1163.5 795.1L1165.4 797.3L1167.4 799.6L1169.4 801.8L1171.4 804.1L1173.4 806.4L1175.4 808.6L1177.4 810.9L1179.4 813.1L1181.4 815.4L1183.4 817.7L1185.4 819.9L1187.4 822.2L1189.3 824.4L1191.3 826.7L1193.3 828.9L1195.3 831.2L1197.3 833.4L1199.3 835.7L1201.3 837.9L1203.3 840.2L1205.3 842.4L1207.3 844.7L1209.3 846.9L1211.3 849.2L1213.4 851.4L1215.4 853.7L1217.4 855.9L1219.4 858.1L1221.4 860.4L1223.4 862.6L1225.4 864.9L1227.5 867.1L1229.5 869.3L1231.5 871.5L1233.5 873.8L1235.6 876.0L1237.6 878.2L1239.6 880.4L1241.7 882.7L1243.7 884.9L1245.7 887.1L1247.8 889.3L1249.8 891.5L1251.9 893.7L1253.9 895.9L1256.0 898.1L1258.1 900.3L1260.1 902.5L1262.2 904.7L1264.2 906.9L1266.3 909.1L1268.4 911.2L1270.5 913.4L1272.6 915.6L1274.6 917.8L1276.7 919.9L1278.8 922.1L1280.9 924.3L1283.0 926.4L1285.1 928.6L1287.2 930.7L1289.3 932.9L1291.5 935.0L1293.6 937.1L1295.7 939.3L1297.8 941.4L1300.0 943.5L1302.1 945.7L1304.3 947.8L1306.4 949.9L1308.6 952.0L1310.7 954.1L1312.9 956.2L1315.1 958.3L1317.2 960.3L1319.4 962.4L1321.6 964.5L1323.8 966.5L1326.0 968.6L1328.2 970.7L1330.4 972.7L1332.6 974.7L1334.8 976.8L1337.1 978.8L1339.3 980.8L1341.6 982.8L1343.8 984.8L1346.1 986.8L1348.3 988.8L1350.6 990.8L1352.9 992.7L1355.2 994.7L1357.4 996.7L1359.7 998.6L1362.0 1000.6L1364.3 1002.5L1366.7 1004.4L1369.0 1006.3L1371.3 1008.2L1373.6 1010.1L1376.0 1012.0L1378.3 1013.9L1380.7 1015.8L1383.0 1017.7L1385.4 1019.6L1387.7 1021.4L1390.1 1023.3L1392.5 1025.1L1394.9 1027.0L1397.3 1028.8L1399.6 1030.7L1402.0 1032.5L1404.4 1034.3L1406.8 1036.1L1409.2 1037.9L1411.7 1039.7L1414.1 1041.5L1416.5 1043.3L1418.9 1045.1L1421.4 1046.9L1423.8 1048.6L1426.2 1050.4L1428.7 1052.2L1431.1 1053.9L1433.6 1055.7L1436.0 1057.4L1438.5 1059.2L1440.9 1060.9L1443.4 1062.6L1445.8 1064.4L1448.3 1066.1L1450.8 1067.8L1453.3 1069.6L1455.7 1071.3L1458.2 1073.0L1460.7 1074.7L1463.2 1076.4L1465.6 1078.1L1468.1 1079.8L1470.6 1081.5L1473.1 1083.2L1475.6 1084.9L1478.1 1086.6L1480.6 1088.3L1483.0 1090.0L1485.5 1091.7L1488.0 1093.4L1490.5 1095.1L1493.0 1096.8L1495.5 1098.5L1498.0 1100.2L1500.5 1101.8L1503.0 1103.5L1505.4 1105.2L1507.9 1106.9L1510.4 1108.7L1512.9 1110.4L1515.4 1112.1L1517.8 1113.8L1520.3 1115.5L1522.8 1117.2L1525.2 1119.0L1527.7 1120.7L1530.1 1122.5L1532.6 1124.2L1535.0 1126.0L1537.5 1127.7L1539.9 1129.5L1542.3 1131.3L1544.8 1133.1L1547.2 1134.9L1549.6 1136.7L1552.0 1138.5L1554.4 1140.3L1556.8 1142.1L1559.2 1143.9L1561.6 1145.7L1564.0 1147.6L1566.4 1149.4L1568.8 1151.3L1571.1 1153.1L1573.5 1155.0L1575.9 1156.8L1578.2 1158.7L1580.6 1160.6L1582.9 1162.5L1585.3 1164.4L1587.6 1166.2L1589.9 1168.1L1592.3 1170.1L1594.6 1172.0L1596.9 1173.9L1599.2 1175.8L1601.6 1177.7L1603.9 1179.7L1606.2 1181.6L1608.5 1183.5L1610.8 1185.5L1613.1 1187.4L1615.4 1189.4L1617.7 1191.3L1619.9 1193.3L1622.2 1195.2L1624.5 1197.2L1626.8 1199.2L1629.1 1201.1L1631.4 1203.1L1633.6 1205.1L1635.9 1207.0L1638.2 1209.0" fill="none" stroke="#f0047f" stroke-width="8.8" stroke-linejoin="round" stroke-linecap="butt"/><path d="M569.5 147.0L593.1 147.0M569.5 173.0L593.1 173.0M768.3 280.7L791.9 280.7M768.3 296.7L791.9 296.7M998.9 618.5L1022.5 618.5M998.9 634.5L1022.5 634.5M1130.9 761.5L1154.5 761.5M1130.9 777.5L1154.5 777.5M1330.1 993.0L1353.7 993.0M1330.1 1009.0L1353.7 1009.0M1526.8 1115.0L1550.4 1115.0M1526.8 1131.0L1550.4 1131.0M1626.4 1201.0L1650.0 1201.0M1626.4 1217.0L1650.0 1217.0" stroke="#f0047f" stroke-opacity="0.55" stroke-width="2.2" fill="none"/><polygon points="581.3,137.3 586.4,153.0 602.9,153.0 589.5,162.7 594.6,178.4 581.3,168.7 568.0,178.4 573.1,162.7 559.7,153.0 576.2,153.0" fill="#f0047f" stroke="#f0047f" stroke-width="1"/><polygon points="780.1,266.0 785.2,281.7 801.7,281.7 788.3,291.4 793.4,307.1 780.1,297.4 766.8,307.1 771.9,291.4 758.5,281.7 775.0,281.7" fill="#f0047f" stroke="#f0047f" stroke-width="1"/><polygon points="1010.7,603.8 1015.8,619.5 1032.3,619.5 1018.9,629.2 1024.0,644.9 1010.7,635.2 997.4,644.9 1002.5,629.2 989.1,619.5 1005.6,619.5" fill="#f0047f" stroke="#f0047f" stroke-width="1"/><polygon points="1142.7,746.8 1147.8,762.5 1164.3,762.5 1150.9,772.2 1156.0,787.9 1142.7,778.2 1129.4,787.9 1134.5,772.2 1121.1,762.5 1137.6,762.5" fill="#f0047f" stroke="#f0047f" stroke-width="1"/><polygon points="1341.9,978.3 1347.0,994.0 1363.5,994.0 1350.1,1003.7 1355.2,1019.4 1341.9,1009.7 1328.6,1019.4 1333.7,1003.7 1320.3,994.0 1336.8,994.0" fill="#f0047f" stroke="#f0047f" stroke-width="1"/><polygon points="1538.6,1100.3 1543.7,1116.0 1560.2,1116.0 1546.8,1125.7 1551.9,1141.4 1538.6,1131.7 1525.3,1141.4 1530.4,1125.7 1517.0,1116.0 1533.5,1116.0" fill="#f0047f" stroke="#f0047f" stroke-width="1"/><polygon points="1638.2,1186.3 1643.3,1202.0 1659.8,1202.0 1646.4,1211.7 1651.5,1227.4 1638.2,1217.7 1624.9,1227.4 1630.0,1211.7 1616.6,1202.0 1633.1,1202.0" fill="#f0047f" stroke="#f0047f" stroke-width="1"/><path d="M382.4 1207.5L385.4 1207.7L388.4 1207.9L391.4 1208.1L394.4 1208.2L397.4 1208.4L400.4 1208.6L403.4 1208.8L406.4 1209.0L409.4 1209.2L412.4 1209.4L415.4 1209.5L418.4 1209.7L421.4 1209.9L424.5 1210.1L427.5 1210.3L430.5 1210.5L433.5 1210.7L436.5 1210.8L439.5 1211.0L442.5 1211.2L445.5 1211.4L448.5 1211.6L451.5 1211.7L454.5 1211.9L457.5 1212.1L460.5 1212.3L463.5 1212.5L466.5 1212.7L469.5 1212.8L472.5 1213.0L475.5 1213.2L478.5 1213.4L481.5 1213.6L484.5 1213.7L487.5 1213.9L490.5 1214.1L493.5 1214.3L496.5 1214.4L499.5 1214.6L502.6 1214.8L505.6 1215.0L508.6 1215.1L511.6 1215.3L514.6 1215.5L517.6 1215.7L520.6 1215.8L523.6 1216.0L526.6 1216.2L529.6 1216.3L532.6 1216.5L535.6 1216.7L538.6 1216.8L541.6 1217.0L544.6 1217.2L547.6 1217.3L550.6 1217.5L553.6 1217.7L556.6 1217.8L559.6 1218.0L562.6 1218.1L565.7 1218.3L568.7 1218.5L571.7 1218.6L574.7 1218.8L577.7 1218.9L580.7 1219.1L583.7 1219.2L586.7 1219.4L589.7 1219.5L592.7 1219.7L595.7 1219.8L598.7 1220.0L601.7 1220.1L604.7 1220.3L607.7 1220.4L610.7 1220.6L613.7 1220.7L616.7 1220.8L619.8 1221.0L622.8 1221.1L625.8 1221.3L628.8 1221.4L631.8 1221.5L634.8 1221.7L637.8 1221.8L640.8 1221.9L643.8 1222.1L646.8 1222.2L649.8 1222.3L652.8 1222.4L655.8 1222.6L658.8 1222.7L661.8 1222.8L664.9 1222.9L667.9 1223.0L670.9 1223.1L673.9 1223.3L676.9 1223.4L679.9 1223.5L682.9 1223.6L685.9 1223.7L688.9 1223.8L691.9 1223.9L694.9 1224.0L697.9 1224.1L700.9 1224.2L704.0 1224.3L707.0 1224.4L710.0 1224.5L713.0 1224.6L716.0 1224.7L719.0 1224.7L722.0 1224.8L725.0 1224.9L728.0 1225.0L731.0 1225.1L734.0 1225.1L737.0 1225.2L740.1 1225.3L743.1 1225.4L746.1 1225.4L749.1 1225.5L752.1 1225.6L755.1 1225.6L758.1 1225.7L761.1 1225.7L764.1 1225.8L767.1 1225.8L770.1 1225.9L773.1 1225.9L776.2 1226.0L779.2 1226.0L782.2 1226.1L785.2 1226.1L788.2 1226.1L791.2 1226.2L794.2 1226.2L797.2 1226.2L800.2 1226.3L803.2 1226.3L806.2 1226.3L809.3 1226.3L812.3 1226.3L815.3 1226.4L818.3 1226.4L821.3 1226.4L824.3 1226.4L827.3 1226.4L830.3 1226.4L833.3 1226.4L836.3 1226.4L839.4 1226.4L842.4 1226.4L845.4 1226.4L848.4 1226.4L851.4 1226.4L854.4 1226.3L857.4 1226.3L860.4 1226.3L863.4 1226.3L866.4 1226.3L869.4 1226.2L872.5 1226.2L875.5 1226.2L878.5 1226.1L881.5 1226.1L884.5 1226.1L887.5 1226.0L890.5 1226.0L893.5 1226.0L896.5 1225.9L899.5 1225.9L902.5 1225.8L905.6 1225.8L908.6 1225.7L911.6 1225.7L914.6 1225.6L917.6 1225.5L920.6 1225.5L923.6 1225.4L926.6 1225.3L929.6 1225.3L932.6 1225.2L935.6 1225.1L938.6 1225.1L941.7 1225.0L944.7 1224.9L947.7 1224.8L950.7 1224.8L953.7 1224.7L956.7 1224.6L959.7 1224.5L962.7 1224.4L965.7 1224.3L968.7 1224.2L971.7 1224.1L974.7 1224.0L977.8 1223.9L980.8 1223.8L983.8 1223.7L986.8 1223.6L989.8 1223.5L992.8 1223.4L995.8 1223.3L998.8 1223.2L1001.8 1223.1L1004.8 1223.0L1007.8 1222.9L1010.8 1222.7L1013.8 1222.6L1016.9 1222.5L1019.9 1222.4L1022.9 1222.2L1025.9 1222.1L1028.9 1222.0L1031.9 1221.9L1034.9 1221.7L1037.9 1221.6L1040.9 1221.4L1043.9 1221.3L1046.9 1221.1L1049.9 1221.0L1052.9 1220.8L1055.9 1220.7L1058.9 1220.5L1061.9 1220.4L1064.9 1220.2L1067.9 1220.0L1071.0 1219.9L1074.0 1219.7L1077.0 1219.5L1080.0 1219.3L1083.0 1219.2L1086.0 1219.0L1089.0 1218.8L1092.0 1218.6L1095.0 1218.4L1098.0 1218.2L1101.0 1218.0L1104.0 1217.8L1107.0 1217.6L1110.0 1217.4L1113.0 1217.2L1116.0 1217.0L1119.0 1216.7L1122.0 1216.5L1125.0 1216.3L1128.0 1216.1L1131.0 1215.8L1134.0 1215.6L1137.0 1215.4L1140.0 1215.1L1143.0 1214.9L1146.0 1214.6L1149.0 1214.4L1152.0 1214.1L1155.0 1213.8L1158.0 1213.6L1161.0 1213.3L1164.0 1213.0L1167.0 1212.7L1170.0 1212.4L1173.0 1212.1L1176.0 1211.8L1179.0 1211.5L1182.0 1211.2L1185.0 1210.9L1187.9 1210.6L1190.9 1210.3L1193.9 1210.0L1196.9 1209.6L1199.9 1209.3L1202.9 1209.0L1205.9 1208.6L1208.9 1208.3L1211.9 1207.9L1214.9 1207.6L1217.8 1207.2L1220.8 1206.8L1223.8 1206.4L1226.8 1206.0L1229.8 1205.6L1232.8 1205.2L1235.7 1204.8L1238.7 1204.4L1241.7 1204.0L1244.7 1203.6L1247.7 1203.1L1250.6 1202.7L1253.6 1202.3L1256.6 1201.8L1259.6 1201.3L1262.5 1200.9L1265.5 1200.4L1268.5 1199.9L1271.4 1199.4L1274.4 1198.9L1277.4 1198.4L1280.3 1197.9L1283.3 1197.3L1286.3 1196.8L1289.2 1196.3L1292.2 1195.7L1295.1 1195.1L1298.1 1194.6L1301.0 1194.0L1304.0 1193.4L1306.9 1192.8L1309.9 1192.1L1312.8 1191.5L1315.8 1190.8L1318.7 1190.2L1321.6 1189.5L1324.6 1188.8L1327.5 1188.1L1330.4 1187.4L1333.3 1186.7L1336.3 1186.0L1339.2 1185.2L1342.1 1184.4L1345.0 1183.7L1347.9 1182.9L1350.8 1182.1L1353.7 1181.2L1356.6 1180.4L1359.4 1179.5L1362.3 1178.6L1365.2 1177.8L1368.1 1176.8L1370.9 1175.9L1373.8 1175.0L1376.6 1174.0L1379.5 1173.0L1382.3 1172.0L1385.1 1171.0L1388.0 1169.9L1390.8 1168.9L1393.6 1167.8L1396.4 1166.7L1399.2 1165.6L1402.0 1164.4L1404.7 1163.3L1407.5 1162.1L1410.3 1160.9L1413.0 1159.6L1415.7 1158.4L1418.5 1157.1L1421.2 1155.8L1423.9 1154.5L1426.6 1153.1L1429.3 1151.8L1431.9 1150.4L1434.6 1149.0L1437.2 1147.5L1439.9 1146.1L1442.5 1144.6L1445.1 1143.1L1447.7 1141.6L1450.3 1140.0L1452.8 1138.4L1455.4 1136.9L1457.9 1135.2L1460.4 1133.6L1462.9 1131.9L1465.4 1130.2L1467.9 1128.5L1470.4 1126.8L1472.8 1125.0L1475.3 1123.3L1477.7 1121.5L1480.1 1119.7L1482.4 1117.8L1484.8 1116.0L1487.2 1114.1L1489.5 1112.2L1491.8 1110.2L1494.1 1108.3L1496.4 1106.3L1498.7 1104.4L1500.9 1102.4L1503.2 1100.4L1505.4 1098.3L1507.6 1096.3L1509.8 1094.2L1511.9 1092.1L1514.1 1090.0L1516.2 1087.9L1518.3 1085.8L1520.5 1083.6L1522.5 1081.5L1524.6 1079.3L1526.7 1077.1L1528.7 1074.9L1530.8 1072.7L1532.8 1070.4L1534.8 1068.2L1536.8 1065.9L1538.7 1063.7L1540.7 1061.4L1542.7 1059.1L1544.6 1056.8L1546.5 1054.5L1548.4 1052.1L1550.3 1049.8L1552.2 1047.5L1554.1 1045.1L1555.9 1042.7L1557.8 1040.4L1559.6 1038.0L1561.5 1035.6L1563.3 1033.2L1565.1 1030.8L1566.9 1028.4L1568.7 1026.0L1570.5 1023.5L1572.2 1021.1L1574.0 1018.7L1575.7 1016.2L1577.5 1013.8L1579.2 1011.3L1580.9 1008.8L1582.7 1006.4L1584.4 1003.9L1586.1 1001.4L1587.8 998.9L1589.4 996.4L1591.1 993.9L1592.8 991.4L1594.5 988.9L1596.1 986.4L1597.8 983.9L1599.4 981.4L1601.1 978.8L1602.7 976.3L1604.3 973.8L1605.9 971.2L1607.5 968.7L1609.1 966.2L1610.7 963.6L1612.3 961.1L1613.9 958.5L1615.5 955.9L1617.1 953.4L1618.7 950.8L1620.2 948.2L1621.8 945.7L1623.4 943.1L1624.9 940.5L1626.5 937.9L1628.0 935.4L1629.6 932.8L1631.1 930.2L1632.6 927.6L1634.2 925.0L1635.7 922.4L1637.2 919.8L1638.7 917.2L1640.3 914.6L1641.8 912.0L1643.3 909.4L1644.8 906.8L1646.3 904.2L1647.8 901.6L1649.3 899.0L1650.8 896.4L1652.3 893.8L1653.8 891.2L1655.2 888.5L1656.7 885.9L1658.2 883.3L1659.7 880.7L1661.2 878.1L1662.6 875.4L1664.1 872.8L1665.6 870.2L1667.0 867.6L1668.5 864.9L1670.0 862.3L1671.4 859.7L1672.9 857.0L1674.4 854.4L1675.8 851.8L1677.3 849.1L1678.7 846.5L1680.2 843.9L1681.6 841.2L1683.1 838.6L1684.5 836.0L1686.0 833.3L1687.4 830.7L1688.9 828.0L1690.3 825.4L1691.8 822.8L1693.2 820.1L1694.7 817.5L1696.1 814.9L1697.6 812.2L1699.0 809.6L1700.5 806.9L1701.9 804.3L1703.3 801.7L1704.8 799.0L1706.2 796.4L1707.7 793.7L1709.1 791.1L1710.6 788.5L1712.0 785.8L1713.5 783.2L1714.9 780.5L1716.4 777.9L1717.8 775.3L1719.3 772.6L1720.7 770.0L1722.1 767.3L1723.6 764.7L1725.0 762.1L1726.5 759.4L1727.9 756.8L1729.4 754.2L1730.8 751.5L1732.3 748.9L1733.7 746.2L1735.2 743.6L1736.6 741.0L1738.1 738.3L1739.5 735.7L1740.9 733.0L1742.4 730.4L1743.8 727.8L1745.3 725.1L1746.7 722.5L1748.2 719.8L1749.6 717.2L1751.1 714.6L1752.5 711.9L1754.0 709.3L1755.4 706.7L1756.9 704.0L1758.3 701.4L1759.8 698.7L1761.2 696.1L1762.7 693.5L1764.1 690.8L1765.6 688.2L1767.0 685.5L1768.4 682.9L1769.9 680.3L1771.3 677.6L1772.8 675.0L1774.2 672.4L1775.7 669.7L1777.1 667.1L1778.6 664.4L1780.0 661.8L1781.5 659.2L1782.9 656.5L1784.4 653.9L1785.8 651.2L1787.3 648.6L1788.7 646.0L1790.2 643.3L1791.6 640.7L1793.1 638.1L1794.5 635.4L1796.0 632.8L1797.4 630.1L1798.9 627.5L1800.3 624.9L1801.8 622.2L1803.2 619.6L1804.7 617.0L1806.1 614.3L1807.5 611.7L1809.0 609.0L1810.4 606.4L1811.9 603.8L1813.3 601.1L1814.8 598.5L1816.2 595.9L1817.7 593.2L1819.1 590.6L1820.6 587.9L1822.0 585.3L1823.5 582.7L1824.9 580.0L1826.4 577.4L1827.8 574.8L1829.3 572.1L1830.7 569.5L1832.2 566.8L1833.6 564.2L1835.1 561.6L1836.5 558.9L1838.0 556.3L1839.4 553.7L1840.9 551.0L1842.3 548.4L1843.8 545.7L1845.2 543.1L1846.7 540.5L1848.1 537.8L1849.6 535.2L1851.0 532.6L1852.5 529.9L1853.9 527.3L1855.4 524.6L1856.8 522.0L1858.3 519.4L1859.7 516.7L1861.2 514.1L1862.6 511.5L1864.1 508.8L1865.5 506.2L1867.0 503.5L1868.4 500.9" fill="none" stroke="#000000" stroke-width="8.8" stroke-linejoin="round" stroke-linecap="butt"/><rect x="366.4" y="1191.5" width="32.0" height="32.0" fill="#fff" stroke="#000000" stroke-width="3"/><rect x="663.5" y="1209.9" width="32.0" height="32.0" fill="#fff" stroke="#000000" stroke-width="3"/><rect x="927.9" y="1212.5" width="32.0" height="32.0" fill="#fff" stroke="#000000" stroke-width="3"/><rect x="1323.8" y="1190.0" width="32.0" height="32.0" fill="#fff" stroke="#000000" stroke-width="3"/><rect x="1522.1" y="1088.1" width="32.0" height="32.0" fill="#fff" stroke="#000000" stroke-width="3"/><rect x="1687.2" y="785.6" width="32.0" height="32.0" fill="#fff" stroke="#000000" stroke-width="3"/><rect x="1852.4" y="484.9" width="32.0" height="32.0" fill="#fff" stroke="#000000" stroke-width="3"/><path d="M745.9 1251.3L748.9 1251.1L751.9 1250.9L754.9 1250.8L757.9 1250.6L760.9 1250.4L763.9 1250.2L766.9 1250.1L769.9 1249.9L772.9 1249.7L775.9 1249.5L778.9 1249.4L781.9 1249.2L784.9 1249.0L787.9 1248.8L790.9 1248.6L793.9 1248.5L796.9 1248.3L799.9 1248.1L802.9 1247.9L805.9 1247.7L808.9 1247.5L811.9 1247.4L814.9 1247.2L817.9 1247.0L820.9 1246.8L823.9 1246.6L826.9 1246.4L829.9 1246.2L832.9 1246.0L835.9 1245.8L838.9 1245.6L841.9 1245.5L844.9 1245.3L847.9 1245.1L851.0 1244.9L854.0 1244.7L857.0 1244.5L860.0 1244.3L863.0 1244.1L866.0 1243.9L869.0 1243.7L872.0 1243.5L875.0 1243.3L878.0 1243.1L881.0 1242.9L884.0 1242.6L887.0 1242.4L890.0 1242.2L893.0 1242.0L896.0 1241.8L899.0 1241.6L902.0 1241.4L905.0 1241.2L908.0 1241.0L910.9 1240.7L913.9 1240.5L916.9 1240.3L919.9 1240.1L922.9 1239.8L925.9 1239.6L928.9 1239.3L931.9 1239.1L934.9 1238.8L937.9 1238.6L940.9 1238.3L943.9 1238.0L946.9 1237.7L949.9 1237.4L952.9 1237.1L955.9 1236.8L958.9 1236.5L961.9 1236.2L964.8 1235.8L967.8 1235.5L970.8 1235.1L973.8 1234.8L976.8 1234.4L979.8 1234.0L982.8 1233.6L985.7 1233.2L988.7 1232.8L991.7 1232.4L994.7 1231.9L997.6 1231.5L1000.6 1231.0L1003.6 1230.5L1006.5 1230.1L1009.5 1229.6L1012.5 1229.1L1015.4 1228.6L1018.4 1228.0L1021.4 1227.5L1024.3 1226.9L1027.3 1226.4L1030.2 1225.8L1033.2 1225.2L1036.1 1224.6L1039.1 1224.0L1042.0 1223.4L1044.9 1222.8L1047.9 1222.1L1050.8 1221.5L1053.7 1220.8L1056.7 1220.1L1059.6 1219.4L1062.5 1218.7L1065.4 1218.0L1068.4 1217.2L1071.3 1216.5L1074.2 1215.7L1077.1 1215.0L1080.0 1214.2L1082.9 1213.4L1085.8 1212.6L1088.7 1211.7L1091.6 1210.9L1094.5 1210.1L1097.3 1209.2L1100.2 1208.3L1103.1 1207.4L1106.0 1206.5L1108.8 1205.6L1111.7 1204.7L1114.5 1203.8L1117.4 1202.8L1120.2 1201.8L1123.1 1200.9L1125.9 1199.9L1128.8 1198.9L1131.6 1197.9L1134.4 1196.8L1137.2 1195.8L1140.1 1194.7L1142.9 1193.7L1145.7 1192.6L1148.5 1191.5L1151.3 1190.4L1154.1 1189.3L1156.9 1188.2L1159.6 1187.1L1162.4 1185.9L1165.2 1184.7L1168.0 1183.6L1170.7 1182.4L1173.5 1181.2L1176.3 1180.0L1179.0 1178.8L1181.7 1177.6L1184.5 1176.3L1187.2 1175.1L1189.9 1173.8L1192.7 1172.5L1195.4 1171.2L1198.1 1169.9L1200.8 1168.6L1203.5 1167.3L1206.2 1166.0L1208.9 1164.6L1211.6 1163.3L1214.3 1161.9L1216.9 1160.6L1219.6 1159.2L1222.3 1157.8L1224.9 1156.4L1227.6 1154.9L1230.2 1153.5L1232.9 1152.1L1235.5 1150.6L1238.1 1149.1L1240.7 1147.7L1243.4 1146.2L1246.0 1144.7L1248.6 1143.2L1251.2 1141.7L1253.7 1140.1L1256.3 1138.6L1258.9 1137.0L1261.5 1135.5L1264.0 1133.9L1266.6 1132.3L1269.1 1130.7L1271.7 1129.1L1274.2 1127.5L1276.7 1125.8L1279.2 1124.2L1281.8 1122.5L1284.3 1120.9L1286.8 1119.2L1289.2 1117.5L1291.7 1115.8L1294.2 1114.1L1296.7 1112.4L1299.1 1110.6L1301.6 1108.9L1304.0 1107.1L1306.4 1105.4L1308.9 1103.6L1311.3 1101.8L1313.7 1100.0L1316.1 1098.2L1318.5 1096.4L1320.9 1094.5L1323.2 1092.7L1325.6 1090.8L1328.0 1088.9L1330.3 1087.1L1332.6 1085.2L1335.0 1083.3L1337.3 1081.4L1339.6 1079.4L1341.9 1077.5L1344.2 1075.5L1346.5 1073.6L1348.7 1071.6L1351.0 1069.6L1353.2 1067.6L1355.5 1065.6L1357.7 1063.6L1359.9 1061.6L1362.1 1059.5L1364.3 1057.5L1366.5 1055.4L1368.7 1053.3L1370.9 1051.3L1373.0 1049.2L1375.2 1047.0L1377.3 1044.9L1379.4 1042.8L1381.5 1040.6L1383.6 1038.5L1385.7 1036.3L1387.8 1034.1L1389.8 1032.0L1391.9 1029.7L1393.9 1027.5L1395.9 1025.3L1397.9 1023.1L1400.0 1020.8L1401.9 1018.6L1403.9 1016.3L1405.9 1014.0L1407.8 1011.8L1409.8 1009.5L1411.7 1007.2L1413.7 1004.9L1415.6 1002.5L1417.5 1000.2L1419.4 997.9L1421.2 995.5L1423.1 993.2L1425.0 990.8L1426.8 988.4L1428.7 986.1L1430.5 983.7L1432.3 981.3L1434.1 978.9L1435.9 976.5L1437.7 974.0L1439.5 971.6L1441.3 969.2L1443.0 966.8L1444.8 964.3L1446.5 961.9L1448.2 959.4L1450.0 956.9L1451.7 954.5L1453.4 952.0L1455.1 949.5L1456.8 947.0L1458.5 944.5L1460.1 942.0L1461.8 939.5L1463.5 937.0L1465.1 934.5L1466.8 932.0L1468.4 929.5L1470.0 926.9L1471.6 924.4L1473.3 921.9L1474.9 919.3L1476.5 916.8L1478.1 914.2L1479.6 911.7L1481.2 909.1L1482.8 906.6L1484.4 904.0L1485.9 901.4L1487.5 898.9L1489.0 896.3L1490.6 893.7L1492.1 891.1L1493.7 888.5L1495.2 885.9L1496.7 883.3L1498.2 880.7L1499.7 878.1L1501.2 875.5L1502.7 872.9L1504.2 870.3L1505.7 867.7L1507.2 865.1L1508.7 862.5L1510.2 859.9L1511.7 857.3L1513.1 854.6L1514.6 852.0L1516.1 849.4L1517.5 846.8L1519.0 844.1L1520.4 841.5L1521.9 838.9L1523.3 836.2L1524.8 833.6L1526.2 830.9L1527.6 828.3L1529.1 825.7L1530.5 823.0L1531.9 820.4L1533.4 817.7L1534.8 815.1L1536.2 812.4L1537.6 809.8L1539.0 807.1L1540.4 804.4L1541.8 801.8L1543.3 799.1L1544.7 796.5L1546.1 793.8L1547.5 791.2L1548.9 788.5L1550.3 785.8L1551.7 783.2L1553.1 780.5L1554.4 777.8L1555.8 775.2L1557.2 772.5L1558.6 769.8L1560.0 767.2L1561.4 764.5L1562.8 761.8L1564.2 759.2L1565.6 756.5L1566.9 753.8L1568.3 751.2L1569.7 748.5L1571.1 745.8L1572.5 743.1L1573.8 740.5L1575.2 737.8L1576.6 735.1L1578.0 732.5L1579.4 729.8L1580.7 727.1L1582.1 724.4L1583.5 721.8L1584.9 719.1L1586.2 716.4L1587.6 713.8L1589.0 711.1L1590.4 708.4L1591.8 705.7L1593.1 703.1L1594.5 700.4L1595.9 697.7L1597.3 695.0L1598.7 692.4L1600.0 689.7L1601.4 687.0L1602.8 684.4L1604.2 681.7L1605.5 679.0L1606.9 676.3L1608.3 673.7L1609.7 671.0L1611.0 668.3L1612.4 665.6L1613.8 663.0L1615.2 660.3L1616.6 657.6L1617.9 654.9L1619.3 652.3L1620.7 649.6L1622.1 646.9L1623.4 644.3L1624.8 641.6L1626.2 638.9L1627.6 636.2L1628.9 633.6L1630.3 630.9L1631.7 628.2L1633.1 625.5L1634.5 622.9L1635.8 620.2L1637.2 617.5L1638.6 614.8L1640.0 612.2L1641.3 609.5L1642.7 606.8L1644.1 604.1L1645.5 601.5L1646.8 598.8L1648.2 596.1L1649.6 593.5L1651.0 590.8L1652.3 588.1L1653.7 585.4L1655.1 582.8L1656.5 580.1L1657.8 577.4L1659.2 574.7L1660.6 572.1L1662.0 569.4L1663.3 566.7L1664.7 564.0L1666.1 561.4L1667.5 558.7L1668.9 556.0L1670.2 553.3L1671.6 550.7L1673.0 548.0L1674.4 545.3L1675.7 542.6L1677.1 540.0L1678.5 537.3L1679.9 534.6L1681.2 532.0L1682.6 529.3L1684.0 526.6L1685.4 523.9L1686.7 521.3L1688.1 518.6L1689.5 515.9L1690.9 513.2L1692.2 510.6L1693.6 507.9L1695.0 505.2L1696.4 502.5L1697.7 499.9L1699.1 497.2L1700.5 494.5L1701.9 491.8L1703.2 489.2L1704.6 486.5L1706.0 483.8L1707.4 481.1L1708.7 478.5L1710.1 475.8L1711.5 473.1L1712.9 470.4L1714.2 467.8L1715.6 465.1L1717.0 462.4L1718.4 459.7L1719.7 457.1L1721.1 454.4L1722.5 451.7L1723.9 449.1L1725.2 446.4L1726.6 443.7L1728.0 441.0L1729.4 438.4L1730.7 435.7L1732.1 433.0L1733.5 430.3L1734.9 427.7L1736.2 425.0L1737.6 422.3L1739.0 419.6L1740.4 417.0L1741.7 414.3L1743.1 411.6L1744.5 408.9L1745.8 406.3L1747.2 403.6L1748.6 400.9L1750.0 398.2L1751.3 395.6L1752.7 392.9L1754.1 390.2L1755.5 387.5L1756.8 384.9L1758.2 382.2L1759.6 379.5L1761.0 376.8L1762.3 374.2L1763.7 371.5L1765.1 368.8L1766.5 366.1L1767.8 363.5L1769.2 360.8L1770.6 358.1L1772.0 355.4L1773.3 352.8L1774.7 350.1L1776.1 347.4L1777.5 344.7L1778.8 342.1L1780.2 339.4L1781.6 336.7L1783.0 334.0L1784.3 331.4L1785.7 328.7L1787.1 326.0L1788.5 323.3L1789.8 320.7L1791.2 318.0L1792.6 315.3L1794.0 312.6L1795.3 310.0L1796.7 307.3L1798.1 304.6L1799.5 301.9L1800.8 299.3L1802.2 296.6" fill="none" stroke="#9c00cc" stroke-width="8.8" stroke-linejoin="round" stroke-linecap="butt"/><circle cx="745.9" cy="1251.3" r="18" fill="#fff" stroke="#9c00cc" stroke-width="2.6"/><circle cx="879.0" cy="1243.5" r="18" fill="#fff" stroke="#9c00cc" stroke-width="2.6"/><circle cx="1109.4" cy="1225.9" r="18" fill="#fff" stroke="#9c00cc" stroke-width="2.6"/><circle cx="1406.8" cy="1063.3" r="18" fill="#fff" stroke="#9c00cc" stroke-width="2.6"/><circle cx="1572.0" cy="744.6" r="18" fill="#fff" stroke="#9c00cc" stroke-width="2.6"/><circle cx="1802.2" cy="296.6" r="18" fill="#fff" stroke="#9c00cc" stroke-width="2.6"/><path d="M1011.4 1253.5L1014.4 1253.4L1017.4 1253.4L1020.4 1253.3L1023.4 1253.3L1026.4 1253.2L1029.5 1253.2L1032.5 1253.1L1035.5 1253.1L1038.5 1253.0L1041.5 1253.0L1044.5 1252.9L1047.5 1252.9L1050.5 1252.8L1053.5 1252.8L1056.5 1252.7L1059.5 1252.7L1062.5 1252.6L1065.6 1252.5L1068.6 1252.5L1071.6 1252.4L1074.6 1252.4L1077.6 1252.3L1080.6 1252.2L1083.6 1252.2L1086.6 1252.1L1089.6 1252.0L1092.6 1252.0L1095.6 1251.9L1098.6 1251.8L1101.6 1251.8L1104.7 1251.7L1107.7 1251.6L1110.7 1251.5L1113.7 1251.5L1116.7 1251.4L1119.7 1251.3L1122.7 1251.2L1125.7 1251.1L1128.7 1251.0L1131.7 1250.9L1134.7 1250.8L1137.7 1250.8L1140.7 1250.7L1143.8 1250.5L1146.8 1250.4L1149.8 1250.3L1152.8 1250.2L1155.8 1250.1L1158.8 1250.0L1161.8 1249.9L1164.8 1249.7L1167.8 1249.6L1170.8 1249.5L1173.8 1249.4L1176.8 1249.2L1179.8 1249.1L1182.8 1248.9L1185.8 1248.8L1188.8 1248.6L1191.8 1248.5L1194.9 1248.3L1197.9 1248.1L1200.9 1247.9L1203.9 1247.8L1206.9 1247.6L1209.9 1247.4L1212.9 1247.2L1215.9 1247.0L1218.9 1246.8L1221.9 1246.5L1224.9 1246.3L1227.9 1246.1L1230.9 1245.8L1233.9 1245.5L1236.9 1245.3L1239.9 1245.0L1242.9 1244.7L1245.8 1244.4L1248.8 1244.1L1251.8 1243.8L1254.8 1243.4L1257.8 1243.1L1260.8 1242.7L1263.8 1242.3L1266.8 1241.9L1269.7 1241.5L1272.7 1241.1L1275.7 1240.7L1278.7 1240.3L1281.7 1239.8L1284.6 1239.3L1287.6 1238.8L1290.6 1238.3L1293.5 1237.8L1296.5 1237.3L1299.4 1236.7L1302.4 1236.2L1305.4 1235.6L1308.3 1235.0L1311.3 1234.4L1314.2 1233.8L1317.1 1233.1L1320.1 1232.5L1323.0 1231.8L1325.9 1231.1L1328.9 1230.4L1331.8 1229.7L1334.7 1229.0L1337.6 1228.3L1340.5 1227.5L1343.5 1226.8L1346.4 1226.0L1349.3 1225.2L1352.2 1224.4L1355.1 1223.6L1358.0 1222.8L1360.8 1221.9L1363.7 1221.1L1366.6 1220.2L1369.5 1219.3L1372.4 1218.4L1375.2 1217.5L1378.1 1216.5L1380.9 1215.6L1383.8 1214.6L1386.6 1213.6L1389.4 1212.5L1392.2 1211.5L1395.0 1210.4L1397.8 1209.3L1400.6 1208.1L1403.4 1207.0L1406.2 1205.8L1408.9 1204.5L1411.6 1203.3L1414.4 1202.0L1417.1 1200.7L1419.8 1199.4L1422.5 1198.0L1425.1 1196.7L1427.8 1195.3L1430.4 1193.8L1433.1 1192.4L1435.7 1190.9L1438.3 1189.3L1440.9 1187.8L1443.4 1186.2L1446.0 1184.6L1448.5 1183.0L1451.0 1181.3L1453.5 1179.7L1456.0 1178.0L1458.5 1176.2L1460.9 1174.5L1463.3 1172.7L1465.8 1170.9L1468.1 1169.1L1470.5 1167.2L1472.9 1165.4L1475.2 1163.5L1477.5 1161.6L1479.8 1159.6L1482.1 1157.7L1484.4 1155.7L1486.6 1153.7L1488.9 1151.7L1491.1 1149.6L1493.3 1147.5L1495.4 1145.5L1497.6 1143.4L1499.7 1141.3L1501.8 1139.1L1503.9 1137.0L1506.0 1134.8L1508.1 1132.6L1510.2 1130.4L1512.2 1128.2L1514.2 1126.0L1516.2 1123.7L1518.2 1121.4L1520.1 1119.2L1522.1 1116.9L1524.0 1114.6L1525.9 1112.2L1527.8 1109.9L1529.7 1107.6L1531.6 1105.2L1533.4 1102.8L1535.3 1100.5L1537.1 1098.1L1538.9 1095.7L1540.7 1093.2L1542.5 1090.8L1544.2 1088.4L1546.0 1085.9L1547.7 1083.5L1549.4 1081.0L1551.2 1078.5L1552.9 1076.0L1554.5 1073.5L1556.2 1071.0L1557.9 1068.5L1559.5 1066.0L1561.2 1063.5L1562.8 1061.0L1564.4 1058.4L1566.0 1055.9L1567.6 1053.4L1569.2 1050.8L1570.8 1048.2L1572.4 1045.7L1574.0 1043.1L1575.5 1040.5L1577.1 1038.0L1578.6 1035.4L1580.2 1032.8L1581.7 1030.2L1583.2 1027.6L1584.7 1025.0L1586.2 1022.4L1587.7 1019.8L1589.2 1017.2L1590.7 1014.6L1592.2 1012.0L1593.7 1009.3L1595.2 1006.7L1596.6 1004.1L1598.1 1001.5L1599.5 998.8L1601.0 996.2L1602.4 993.5L1603.9 990.9L1605.3 988.3L1606.8 985.6L1608.2 983.0L1609.6 980.3L1611.0 977.7L1612.4 975.0L1613.8 972.3L1615.2 969.7L1616.6 967.0L1618.0 964.4L1619.4 961.7L1620.8 959.0L1622.2 956.3L1623.6 953.7L1625.0 951.0L1626.3 948.3L1627.7 945.6L1629.1 943.0L1630.4 940.3L1631.8 937.6L1633.2 934.9L1634.5 932.2L1635.9 929.5L1637.2 926.9L1638.6 924.2L1639.9 921.5L1641.3 918.8L1642.6 916.1L1643.9 913.4L1645.3 910.7L1646.6 908.0L1647.9 905.3L1649.3 902.6L1650.6 899.9L1651.9 897.2L1653.3 894.5L1654.6 891.8L1655.9 889.1L1657.2 886.4L1658.5 883.7L1659.8 881.0L1661.2 878.3L1662.5 875.6L1663.8 872.9L1665.1 870.2L1666.4 867.4L1667.7 864.7L1669.0 862.0L1670.3 859.3L1671.6 856.6L1672.9 853.9L1674.2 851.2L1675.6 848.5L1676.9 845.8L1678.2 843.0L1679.5 840.3L1680.8 837.6L1682.1 834.9L1683.4 832.2L1684.7 829.5L1686.0 826.8L1687.3 824.1L1688.6 821.3L1689.9 818.6L1691.2 815.9L1692.5 813.2L1693.8 810.5L1695.1 807.8L1696.4 805.1L1697.7 802.4L1699.0 799.6L1700.3 796.9L1701.6 794.2L1702.9 791.5L1704.2 788.8L1705.5 786.1L1706.8 783.4L1708.2 780.7L1709.5 778.0L1710.8 775.3L1712.1 772.6L1713.4 769.9L1714.7 767.2L1716.1 764.5L1717.4 761.8L1718.7 759.1L1720.0 756.4L1721.4 753.7L1722.7 751.0L1724.0 748.3L1725.4 745.6L1726.7 742.9L1728.1 740.2L1729.4 737.5L1730.8 734.8L1732.1 732.1L1733.5 729.4L1734.9 726.8L1736.2 724.1L1737.6 721.4L1739.0 718.7L1740.3 716.0L1741.7 713.4L1743.1 710.7L1744.5 708.0L1745.9 705.4L1747.3 702.7L1748.7 700.0L1750.1 697.4L1751.5 694.7L1752.9 692.0L1754.3 689.4L1755.7 686.7L1757.1 684.1L1758.5 681.4L1760.0 678.8L1761.4 676.1L1762.8 673.5L1764.3 670.8L1765.7 668.2L1767.2 665.6L1768.6 662.9L1770.1 660.3L1771.5 657.7L1773.0 655.0L1774.4 652.4L1775.9 649.8L1777.4 647.1L1778.9 644.5L1780.3 641.9L1781.8 639.3L1783.3 636.7L1784.8 634.1L1786.3 631.4L1787.8 628.8L1789.3 626.2L1790.8 623.6L1792.3 621.0L1793.8 618.4L1795.4 615.8L1796.9 613.2L1798.4 610.6L1799.9 608.0L1801.5 605.5L1803.0 602.9L1804.5 600.3L1806.1 597.7L1807.6 595.1L1809.2 592.5L1810.7 590.0L1812.3 587.4L1813.9 584.8L1815.4 582.3L1817.0 579.7L1818.6 577.1L1820.1 574.6L1821.7 572.0L1823.3 569.4L1824.9 566.9L1826.5 564.3L1828.1 561.8L1829.6 559.2L1831.2 556.7L1832.8 554.1L1834.4 551.6L1836.0 549.0L1837.7 546.5L1839.3 543.9L1840.9 541.4L1842.5 538.9L1844.1 536.3L1845.7 533.8L1847.3 531.2L1848.9 528.7L1850.6 526.2L1852.2 523.6L1853.8 521.1L1855.4 518.6L1857.1 516.0L1858.7 513.5L1860.3 511.0L1861.9 508.4L1863.6 505.9L1865.2 503.4L1866.8 500.9L1868.5 498.3L1870.1 495.8" fill="none" stroke="#6600dd" stroke-width="8.8" stroke-linejoin="round" stroke-linecap="butt"/><polygon points="1011.4,1227.2 1034.2,1266.7 988.6,1266.7" fill="#fff" stroke="#6600dd" stroke-width="2.6" stroke-linejoin="miter"/><polygon points="1209.0,1223.9 1231.8,1263.4 1186.2,1263.4" fill="#fff" stroke="#6600dd" stroke-width="2.6" stroke-linejoin="miter"/><polygon points="1341.9,1208.0 1364.7,1247.5 1319.1,1247.5" fill="#fff" stroke="#6600dd" stroke-width="2.6" stroke-linejoin="miter"/><polygon points="1539.5,1131.9 1562.3,1171.4 1516.7,1171.4" fill="#fff" stroke="#6600dd" stroke-width="2.6" stroke-linejoin="miter"/><polygon points="1737.0,675.9 1759.8,715.4 1714.2,715.4" fill="#fff" stroke="#6600dd" stroke-width="2.6" stroke-linejoin="miter"/><polygon points="1870.1,469.5 1892.9,509.0 1847.3,509.0" fill="#fff" stroke="#6600dd" stroke-width="2.6" stroke-linejoin="miter"/><path d="M779.1 1242.7L782.0 1242.1L785.0 1241.4L787.9 1240.8L790.9 1240.2L793.8 1239.6L796.7 1238.9L799.7 1238.3L802.6 1237.7L805.6 1237.0L808.5 1236.4L811.4 1235.7L814.4 1235.1L817.3 1234.4L820.2 1233.7L823.2 1233.1L826.1 1232.4L829.0 1231.7L832.0 1231.0L834.9 1230.3L837.8 1229.6L840.7 1228.9L843.6 1228.2L846.6 1227.5L849.5 1226.7L852.4 1226.0L855.3 1225.2L858.2 1224.5L861.1 1223.7L864.0 1222.9L866.9 1222.1L869.8 1221.3L872.7 1220.5L875.6 1219.6L878.5 1218.8L881.4 1217.9L884.3 1217.1L887.1 1216.2L890.0 1215.3L892.9 1214.4L895.7 1213.5L898.6 1212.5L901.4 1211.6L904.3 1210.6L907.1 1209.6L910.0 1208.6L912.8 1207.6L915.6 1206.6L918.4 1205.5L921.2 1204.5L924.1 1203.4L926.9 1202.3L929.7 1201.2L932.4 1200.1L935.2 1198.9L938.0 1197.7L940.8 1196.6L943.5 1195.4L946.3 1194.2L949.0 1192.9L951.8 1191.7L954.5 1190.4L957.2 1189.1L959.9 1187.8L962.6 1186.5L965.3 1185.2L968.0 1183.8L970.7 1182.4L973.3 1181.0L976.0 1179.6L978.6 1178.2L981.3 1176.8L983.9 1175.3L986.5 1173.8L989.1 1172.3L991.7 1170.8L994.3 1169.3L996.9 1167.7L999.4 1166.1L1002.0 1164.6L1004.6 1163.0L1007.1 1161.4L1009.6 1159.7L1012.1 1158.1L1014.6 1156.4L1017.1 1154.8L1019.6 1153.1L1022.1 1151.4L1024.6 1149.6L1027.0 1147.9L1029.5 1146.2L1031.9 1144.4L1034.4 1142.6L1036.8 1140.9L1039.2 1139.1L1041.6 1137.2L1044.0 1135.4L1046.4 1133.6L1048.7 1131.7L1051.1 1129.9L1053.5 1128.0L1055.8 1126.1L1058.1 1124.2L1060.5 1122.3L1062.8 1120.4L1065.1 1118.5L1067.4 1116.5L1069.7 1114.6L1071.9 1112.6L1074.2 1110.6L1076.5 1108.7L1078.7 1106.7L1081.0 1104.7L1083.2 1102.6L1085.4 1100.6L1087.6 1098.6L1089.9 1096.5L1092.0 1094.5L1094.2 1092.4L1096.4 1090.4L1098.6 1088.3L1100.8 1086.2L1102.9 1084.1L1105.1 1082.0L1107.2 1079.9L1109.3 1077.8L1111.4 1075.6L1113.6 1073.5L1115.7 1071.3L1117.8 1069.2L1119.9 1067.0L1121.9 1064.8L1124.0 1062.7L1126.1 1060.5L1128.1 1058.3L1130.2 1056.1L1132.2 1053.9L1134.3 1051.7L1136.3 1049.4L1138.3 1047.2L1140.3 1045.0L1142.3 1042.7L1144.3 1040.5L1146.3 1038.2L1148.3 1036.0L1150.3 1033.7L1152.2 1031.4L1154.2 1029.1L1156.1 1026.9L1158.1 1024.6L1160.0 1022.3L1162.0 1020.0L1163.9 1017.6L1165.8 1015.3L1167.7 1013.0L1169.6 1010.7L1171.5 1008.3L1173.4 1006.0L1175.3 1003.7L1177.2 1001.3L1179.0 999.0L1180.9 996.6L1182.8 994.2L1184.6 991.9L1186.5 989.5L1188.3 987.1L1190.1 984.7L1192.0 982.3L1193.8 979.9L1195.6 977.5L1197.4 975.1L1199.2 972.7L1201.0 970.3L1202.8 967.9L1204.6 965.5L1206.4 963.1L1208.1 960.7L1209.9 958.2L1211.7 955.8L1213.4 953.4L1215.2 950.9L1217.0 948.5L1218.7 946.0L1220.4 943.6L1222.2 941.1L1223.9 938.7L1225.7 936.2L1227.4 933.7L1229.1 931.3L1230.8 928.8L1232.5 926.3L1234.2 923.9L1235.9 921.4L1237.6 918.9L1239.3 916.4L1241.0 913.9L1242.7 911.4L1244.4 908.9L1246.1 906.5L1247.8 904.0L1249.4 901.5L1251.1 899.0L1252.8 896.5L1254.4 893.9L1256.1 891.4L1257.7 888.9L1259.4 886.4L1261.0 883.9L1262.7 881.4L1264.3 878.9L1266.0 876.3L1267.6 873.8L1269.2 871.3L1270.9 868.8L1272.5 866.2L1274.1 863.7L1275.7 861.2L1277.4 858.6L1279.0 856.1L1280.6 853.6L1282.2 851.0L1283.8 848.5L1285.4 845.9L1287.0 843.4L1288.6 840.8L1290.2 838.3L1291.8 835.7L1293.4 833.2L1295.0 830.6L1296.6 828.1L1298.1 825.5L1299.7 823.0L1301.3 820.4L1302.9 817.8L1304.4 815.3L1306.0 812.7L1307.6 810.1L1309.2 807.6L1310.7 805.0L1312.3 802.4L1313.8 799.9L1315.4 797.3L1317.0 794.7L1318.5 792.2L1320.1 789.6L1321.6 787.0L1323.2 784.4L1324.7 781.8L1326.3 779.3L1327.8 776.7L1329.4 774.1L1330.9 771.5L1332.4 768.9L1334.0 766.4L1335.5 763.8L1337.0 761.2L1338.6 758.6L1340.1 756.0L1341.6 753.4L1343.2 750.8L1344.7 748.2L1346.2 745.6L1347.7 743.0L1349.3 740.5L1350.8 737.9L1352.3 735.3L1353.8 732.7L1355.3 730.1L1356.8 727.5L1358.4 724.9L1359.9 722.3L1361.4 719.7L1362.9 717.1L1364.4 714.5L1365.9 711.9L1367.4 709.3L1368.9 706.7L1370.4 704.1L1371.9 701.5L1373.4 698.9L1374.9 696.3L1376.4 693.6L1377.9 691.0L1379.4 688.4L1380.9 685.8L1382.4 683.2L1383.9 680.6L1385.4 678.0L1386.9 675.4L1388.4 672.8L1389.9 670.2L1391.4 667.6L1392.9 665.0L1394.4 662.3L1395.9 659.7L1397.4 657.1L1398.9 654.5L1400.4 651.9L1401.9 649.3L1403.4 646.7L1404.9 644.1L1406.4 641.5L1407.9 638.9L1409.4 636.2L1410.8 633.6L1412.3 631.0L1413.8 628.4L1415.3 625.8L1416.8 623.2L1418.3 620.6L1419.8 618.0L1421.3 615.4L1422.8 612.8L1424.3 610.2L1425.9 607.6L1427.4 605.0L1428.9 602.4L1430.4 599.8L1431.9 597.2L1433.4 594.6L1434.9 592.0L1436.4 589.4L1437.9 586.8L1439.5 584.2L1441.0 581.6L1442.5 579.0L1444.0 576.4L1445.5 573.8L1447.1 571.2L1448.6 568.6L1450.1 566.0L1451.7 563.5L1453.2 560.9L1454.7 558.3L1456.3 555.7L1457.8 553.1L1459.4 550.5L1460.9 548.0L1462.5 545.4L1464.0 542.8L1465.6 540.2L1467.1 537.7L1468.7 535.1L1470.3 532.5L1471.8 530.0L1473.4 527.4L1475.0 524.8L1476.6 522.3L1478.1 519.7L1479.7 517.2L1481.3 514.6L1482.9 512.0L1484.5 509.5L1486.1 506.9L1487.7 504.4L1489.3 501.9L1490.9 499.3L1492.5 496.8L1494.1 494.2L1495.8 491.7L1497.4 489.2L1499.0 486.7L1500.6 484.1L1502.3 481.6L1503.9 479.1L1505.6 476.6L1507.2 474.1L1508.9 471.6L1510.6 469.0L1512.2 466.5L1513.9 464.0L1515.6 461.6L1517.3 459.1L1518.9 456.6L1520.6 454.1L1522.3 451.6L1524.0 449.1L1525.7 446.7L1527.5 444.2L1529.2 441.7L1530.9 439.3L1532.6 436.8L1534.4 434.3L1536.1 431.9L1537.9 429.4L1539.6 427.0L1541.4 424.6L1543.2 422.1L1545.0 419.7L1546.7 417.3L1548.5 414.9L1550.3 412.5L1552.1 410.1L1553.9 407.7L1555.8 405.3L1557.6 402.9L1559.4 400.5L1561.3 398.1L1563.1 395.8L1565.0 393.4L1566.8 391.0L1568.7 388.7L1570.6 386.3L1572.5 384.0L1574.4 381.7L1576.3 379.3L1578.2 377.0L1580.1 374.7L1582.1 372.4L1584.0 370.1L1586.0 367.8L1587.9 365.5L1589.9 363.3L1591.9 361.0L1593.9 358.7L1595.9 356.5L1597.9 354.2L1599.9 352.0L1601.9 349.8L1603.9 347.6L1606.0 345.4L1608.0 343.2L1610.1 341.0L1612.1 338.8L1614.2 336.6L1616.3 334.4L1618.4 332.3L1620.5 330.1L1622.6 328.0L1624.7 325.8L1626.8 323.7L1628.9 321.6L1631.1 319.4L1633.2 317.3L1635.4 315.2L1637.5 313.1L1639.7 311.0L1641.9 309.0L1644.0 306.9L1646.2 304.8L1648.4 302.8L1650.6 300.7L1652.8 298.7L1655.0 296.7L1657.3 294.6L1659.5 292.6L1661.7 290.6L1664.0 288.6L1666.2 286.6L1668.5 284.6L1670.7 282.6L1673.0 280.7L1675.3 278.7L1677.6 276.7L1679.9 274.8L1682.1 272.8L1684.4 270.9L1686.7 268.9L1689.1 267.0L1691.4 265.1L1693.7 263.2L1696.0 261.3L1698.3 259.4L1700.7 257.5L1703.0 255.6L1705.4 253.7L1707.7 251.8L1710.1 250.0L1712.4 248.1L1714.8 246.2L1717.2 244.4L1719.5 242.5L1721.9 240.7L1724.3 238.9L1726.7 237.0L1729.1 235.2L1731.5 233.4L1733.9 231.6L1736.3 229.8L1738.7 227.9L1741.1 226.1L1743.5 224.3L1745.9 222.6L1748.3 220.8L1750.7 219.0L1753.2 217.2L1755.6 215.4L1758.0 213.7L1760.4 211.9L1762.9 210.1L1765.3 208.4L1767.8 206.6L1770.2 204.9L1772.7 203.1L1775.1 201.4L1777.6 199.6L1780.0 197.9L1782.5 196.1L1784.9 194.4L1787.4 192.7L1789.8 190.9L1792.3 189.2L1794.8 187.5L1797.2 185.8L1799.7 184.1L1802.2 182.3L1804.6 180.6L1807.1 178.9L1809.6 177.2L1812.0 175.5L1814.5 173.8L1817.0 172.1L1819.5 170.3L1821.9 168.6L1824.4 166.9L1826.9 165.2L1829.4 163.5L1831.8 161.8L1834.3 160.1L1836.8 158.4" fill="none" stroke="#800080" stroke-width="8.8" stroke-linejoin="round" stroke-linecap="butt"/><polygon points="779.1,1218.5 802.3,1242.7 779.1,1266.9 755.9,1242.7" fill="#fff" stroke="#800080" stroke-width="2.6"/><polygon points="978.5,1176.0 1001.7,1200.2 978.5,1224.4 955.3,1200.2" fill="#fff" stroke="#800080" stroke-width="2.6"/><polygon points="1177.0,1002.4 1200.2,1026.6 1177.0,1050.8 1153.8,1026.6" fill="#fff" stroke="#800080" stroke-width="2.6"/><polygon points="1374.0,680.2 1397.2,704.4 1374.0,728.6 1350.8,704.4" fill="#fff" stroke="#800080" stroke-width="2.6"/><polygon points="1572.6,316.1 1595.8,340.3 1572.6,364.5 1549.4,340.3" fill="#fff" stroke="#800080" stroke-width="2.6"/><polygon points="1836.8,134.2 1860.0,158.4 1836.8,182.6 1813.6,158.4" fill="#fff" stroke="#800080" stroke-width="2.6"/><path d="M581.6 1244.5L584.6 1244.5L587.6 1244.5L590.6 1244.5L593.6 1244.5L596.6 1244.5L599.7 1244.5L602.7 1244.5L605.7 1244.5L608.7 1244.5L611.7 1244.5L614.7 1244.4L617.7 1244.4L620.7 1244.4L623.7 1244.4L626.7 1244.4L629.7 1244.4L632.8 1244.4L635.8 1244.4L638.8 1244.4L641.8 1244.4L644.8 1244.4L647.8 1244.4L650.8 1244.3L653.8 1244.3L656.8 1244.3L659.8 1244.3L662.8 1244.3L665.9 1244.3L668.9 1244.3L671.9 1244.3L674.9 1244.2L677.9 1244.2L680.9 1244.2L683.9 1244.2L686.9 1244.2L689.9 1244.1L692.9 1244.1L696.0 1244.1L699.0 1244.1L702.0 1244.1L705.0 1244.0L708.0 1244.0L711.0 1244.0L714.0 1244.0L717.0 1243.9L720.0 1243.9L723.0 1243.9L726.0 1243.8L729.1 1243.8L732.1 1243.8L735.1 1243.7L738.1 1243.7L741.1 1243.7L744.1 1243.6L747.1 1243.6L750.1 1243.6L753.1 1243.5L756.1 1243.5L759.1 1243.4L762.2 1243.4L765.2 1243.3L768.2 1243.3L771.2 1243.2L774.2 1243.2L777.2 1243.1L780.2 1243.1L783.2 1243.0L786.2 1243.0L789.2 1242.9L792.2 1242.9L795.2 1242.8L798.3 1242.8L801.3 1242.7L804.3 1242.6L807.3 1242.6L810.3 1242.5L813.3 1242.5L816.3 1242.4L819.3 1242.3L822.3 1242.3L825.3 1242.2L828.3 1242.1L831.4 1242.1L834.4 1242.0L837.4 1241.9L840.4 1241.8L843.4 1241.8L846.4 1241.7L849.4 1241.6L852.4 1241.6L855.4 1241.5L858.4 1241.4L861.4 1241.3L864.4 1241.3L867.5 1241.2L870.5 1241.1L873.5 1241.0L876.5 1240.9L879.5 1240.9L882.5 1240.8L885.5 1240.7L888.5 1240.6L891.5 1240.6L894.5 1240.5L897.5 1240.4L900.5 1240.3L903.6 1240.2L906.6 1240.2L909.6 1240.1L912.6 1240.0L915.6 1239.9L918.6 1239.8L921.6 1239.8L924.6 1239.7L927.6 1239.6L930.6 1239.5L933.6 1239.5L936.6 1239.4L939.6 1239.3L942.7 1239.2L945.7 1239.1L948.7 1239.1L951.7 1239.0L954.7 1238.9L957.7 1238.8L960.7 1238.8L963.7 1238.7L966.7 1238.6L969.7 1238.6L972.7 1238.5L975.7 1238.4L978.8 1238.3L981.8 1238.3L984.8 1238.2L987.8 1238.1L990.8 1238.1L993.8 1238.0L996.8 1237.9L999.8 1237.9L1002.8 1237.8L1005.8 1237.8L1008.8 1237.7L1011.9 1237.6L1014.9 1237.6L1017.9 1237.5L1020.9 1237.5L1023.9 1237.4L1026.9 1237.4L1029.9 1237.3L1032.9 1237.2L1035.9 1237.2L1038.9 1237.1L1041.9 1237.0L1044.9 1236.9L1048.0 1236.9L1051.0 1236.8L1054.0 1236.7L1057.0 1236.6L1060.0 1236.5L1063.0 1236.4L1066.0 1236.3L1069.0 1236.2L1072.0 1236.1L1075.0 1235.9L1078.0 1235.8L1081.0 1235.7L1084.0 1235.5L1087.0 1235.4L1090.0 1235.2L1093.1 1235.0L1096.1 1234.8L1099.1 1234.6L1102.1 1234.4L1105.1 1234.2L1108.1 1234.0L1111.1 1233.7L1114.1 1233.5L1117.1 1233.2L1120.1 1232.9L1123.1 1232.7L1126.0 1232.4L1129.0 1232.0L1132.0 1231.7L1135.0 1231.4L1138.0 1231.0L1141.0 1230.7L1144.0 1230.3L1147.0 1229.9L1150.0 1229.5L1152.9 1229.1L1155.9 1228.7L1158.9 1228.3L1161.9 1227.9L1164.8 1227.4L1167.8 1226.9L1170.8 1226.5L1173.8 1226.0L1176.7 1225.5L1179.7 1225.0L1182.7 1224.4L1185.6 1223.9L1188.6 1223.3L1191.5 1222.8L1194.5 1222.2L1197.4 1221.6L1200.4 1221.0L1203.3 1220.3L1206.3 1219.7L1209.2 1219.0L1212.1 1218.4L1215.1 1217.7L1218.0 1217.0L1220.9 1216.2L1223.8 1215.5L1226.7 1214.7L1229.6 1214.0L1232.5 1213.2L1235.4 1212.4L1238.3 1211.6L1241.2 1210.7L1244.1 1209.9L1247.0 1209.0L1249.9 1208.1L1252.7 1207.2L1255.6 1206.3L1258.5 1205.4L1261.3 1204.4L1264.2 1203.5L1267.0 1202.5L1269.9 1201.5L1272.7 1200.4L1275.5 1199.4L1278.3 1198.3L1281.1 1197.3L1283.9 1196.2L1286.7 1195.1L1289.5 1193.9L1292.3 1192.8L1295.1 1191.6L1297.9 1190.4L1300.6 1189.2L1303.4 1188.0L1306.1 1186.8L1308.8 1185.5L1311.6 1184.3L1314.3 1183.0L1317.0 1181.7L1319.7 1180.3L1322.4 1179.0L1325.1 1177.6L1327.7 1176.2L1330.4 1174.8L1333.1 1173.4L1335.7 1172.0L1338.4 1170.5L1341.0 1169.1L1343.6 1167.6L1346.2 1166.1L1348.8 1164.6L1351.4 1163.0L1354.0 1161.5L1356.5 1159.9L1359.1 1158.3L1361.6 1156.7L1364.2 1155.1L1366.7 1153.5L1369.2 1151.8L1371.7 1150.1L1374.2 1148.5L1376.7 1146.8L1379.2 1145.0L1381.6 1143.3L1384.1 1141.6L1386.5 1139.8L1389.0 1138.1L1391.4 1136.3L1393.8 1134.5L1396.2 1132.7L1398.6 1130.9L1401.0 1129.0L1403.4 1127.2L1405.7 1125.3L1408.1 1123.4L1410.4 1121.5L1412.8 1119.6L1415.1 1117.7L1417.4 1115.8L1419.7 1113.9L1422.0 1111.9L1424.3 1109.9L1426.5 1108.0L1428.8 1106.0L1431.0 1104.0L1433.3 1102.0L1435.5 1099.9L1437.7 1097.9L1439.9 1095.9L1442.1 1093.8L1444.3 1091.7L1446.5 1089.7L1448.7 1087.6L1450.8 1085.5L1453.0 1083.4L1455.1 1081.2L1457.2 1079.1L1459.3 1077.0L1461.4 1074.8L1463.5 1072.6L1465.6 1070.4L1467.6 1068.3L1469.7 1066.1L1471.7 1063.9L1473.8 1061.6L1475.8 1059.4L1477.8 1057.2L1479.8 1054.9L1481.8 1052.6L1483.8 1050.4L1485.7 1048.1L1487.7 1045.8L1489.6 1043.5L1491.5 1041.2L1493.4 1038.9L1495.3 1036.5L1497.2 1034.2L1499.1 1031.8L1501.0 1029.5L1502.8 1027.1L1504.7 1024.7L1506.5 1022.3L1508.3 1019.9L1510.1 1017.5L1511.9 1015.1L1513.7 1012.7L1515.5 1010.2L1517.2 1007.8L1518.9 1005.3L1520.7 1002.9L1522.4 1000.4L1524.1 997.9L1525.8 995.4L1527.4 992.9L1529.1 990.4L1530.7 987.9L1532.4 985.4L1534.0 982.8L1535.6 980.3L1537.2 977.7L1538.8 975.2L1540.3 972.6L1541.9 970.0L1543.5 967.4L1545.0 964.9L1546.5 962.3L1548.0 959.7L1549.5 957.1L1551.0 954.4L1552.5 951.8L1554.0 949.2L1555.4 946.6L1556.9 943.9L1558.3 941.3L1559.7 938.6L1561.1 936.0L1562.5 933.3L1563.9 930.6L1565.3 928.0L1566.7 925.3L1568.1 922.6L1569.4 919.9L1570.8 917.2L1572.1 914.5L1573.5 911.9L1574.8 909.1L1576.1 906.4L1577.4 903.7L1578.7 901.0L1580.0 898.3L1581.3 895.6L1582.6 892.9L1583.8 890.1L1585.1 887.4L1586.3 884.7L1587.6 881.9L1588.8 879.2L1590.1 876.4L1591.3 873.7L1592.5 870.9L1593.7 868.2L1594.9 865.4L1596.1 862.7L1597.3 859.9L1598.5 857.1L1599.7 854.4L1600.9 851.6L1602.1 848.8L1603.2 846.1L1604.4 843.3L1605.6 840.5L1606.7 837.7L1607.9 835.0L1609.0 832.2L1610.2 829.4L1611.3 826.6L1612.5 823.8L1613.6 821.0L1614.7 818.3L1615.9 815.5L1617.0 812.7L1618.1 809.9L1619.2 807.1L1620.3 804.3L1621.5 801.5L1622.6 798.7L1623.7 795.9L1624.8 793.1L1625.9 790.3L1627.0 787.5L1628.1 784.7L1629.2 781.9L1630.3 779.1L1631.4 776.3L1632.5 773.5L1633.6 770.7L1634.7 767.9L1635.8 765.1L1636.9 762.3L1638.0 759.5" fill="none" stroke="#f0047f" stroke-width="8.8" stroke-linejoin="round" stroke-linecap="butt"/><polygon points="581.6,1221.8 586.7,1237.5 603.2,1237.5 589.8,1247.2 594.9,1262.9 581.6,1253.2 568.3,1262.9 573.4,1247.2 560.0,1237.5 576.5,1237.5" fill="#f0047f" stroke="#f0047f" stroke-width="1"/><polygon points="779.1,1221.5 784.2,1237.2 800.7,1237.2 787.3,1246.9 792.4,1262.6 779.1,1252.9 765.8,1262.6 770.9,1246.9 757.5,1237.2 774.0,1237.2" fill="#f0047f" stroke="#f0047f" stroke-width="1"/><polygon points="1010.9,1214.1 1016.0,1229.8 1032.5,1229.8 1019.1,1239.5 1024.2,1255.2 1010.9,1245.5 997.6,1255.2 1002.7,1239.5 989.3,1229.8 1005.8,1229.8" fill="#f0047f" stroke="#f0047f" stroke-width="1"/><polygon points="1142.6,1213.9 1147.7,1229.6 1164.2,1229.6 1150.8,1239.3 1155.9,1255.0 1142.6,1245.3 1129.3,1255.0 1134.4,1239.3 1121.0,1229.6 1137.5,1229.6" fill="#f0047f" stroke="#f0047f" stroke-width="1"/><polygon points="1341.9,1168.2 1347.0,1183.9 1363.5,1183.9 1350.1,1193.6 1355.2,1209.3 1341.9,1199.6 1328.6,1209.3 1333.7,1193.6 1320.3,1183.9 1336.8,1183.9" fill="#f0047f" stroke="#f0047f" stroke-width="1"/><polygon points="1539.0,989.7 1544.1,1005.4 1560.6,1005.4 1547.2,1015.1 1552.3,1030.8 1539.0,1021.1 1525.7,1030.8 1530.8,1015.1 1517.4,1005.4 1533.9,1005.4" fill="#f0047f" stroke="#f0047f" stroke-width="1"/><polygon points="1638.0,736.8 1643.1,752.5 1659.6,752.5 1646.2,762.2 1651.3,777.9 1638.0,768.2 1624.7,777.9 1629.8,762.2 1616.4,752.5 1632.9,752.5" fill="#f0047f" stroke="#f0047f" stroke-width="1"/><line x1="528.8" y1="502.5" x2="854" y2="502.5" stroke="#000" stroke-width="7" stroke-dasharray="22.6 20.6"/><line x1="486" y1="502.5" x2="507.6" y2="502.5" stroke="#000" stroke-width="7"/><polygon points="448,502.5 491,491.5 491,513.5" fill="#000"/><line x1="1491.5" y1="552.7" x2="1859" y2="552.7" stroke="#808080" stroke-width="6.5" stroke-dasharray="20.7 22.6"/><polygon points="1919.5,554 1874.5,543 1874.5,565.5" fill="#808080"/></g><line x1="293" y1="57.8" x2="1964.5" y2="57.8" stroke="#000" stroke-width="9.4"/><line x1="293" y1="1277" x2="1964.5" y2="1277" stroke="#000" stroke-width="9.4"/><line x1="318.1" y1="53" x2="318.1" y2="1300" stroke="#000" stroke-width="9.4"/><line x1="305.0" y1="158.9" x2="318" y2="158.9" stroke="#000" stroke-width="8.4"/><line x1="293.0" y1="260.4" x2="318" y2="260.4" stroke="#000" stroke-width="8.4"/><line x1="305.0" y1="362.0" x2="318" y2="362.0" stroke="#000" stroke-width="8.4"/><line x1="293.0" y1="463.5" x2="318" y2="463.5" stroke="#000" stroke-width="8.4"/><line x1="305.0" y1="565.1" x2="318" y2="565.1" stroke="#000" stroke-width="8.4"/><line x1="293.0" y1="666.6" x2="318" y2="666.6" stroke="#000" stroke-width="8.4"/><line x1="305.0" y1="768.1" x2="318" y2="768.1" stroke="#000" stroke-width="8.4"/><line x1="293.0" y1="869.7" x2="318" y2="869.7" stroke="#000" stroke-width="8.4"/><line x1="305.0" y1="971.2" x2="318" y2="971.2" stroke="#000" stroke-width="8.4"/><line x1="293.0" y1="1072.8" x2="318" y2="1072.8" stroke="#000" stroke-width="8.4"/><line x1="305.0" y1="1174.3" x2="318" y2="1174.3" stroke="#000" stroke-width="8.4"/><line x1="483.2" y1="1277" x2="483.2" y2="1287.5" stroke="#000" stroke-width="9"/><line x1="648.2" y1="1277" x2="648.2" y2="1300.0" stroke="#000" stroke-width="9"/><line x1="813.2" y1="1277" x2="813.2" y2="1287.5" stroke="#000" stroke-width="9"/><line x1="978.3" y1="1277" x2="978.3" y2="1300.0" stroke="#000" stroke-width="9"/><line x1="1143.3" y1="1277" x2="1143.3" y2="1287.5" stroke="#000" stroke-width="9"/><line x1="1308.4" y1="1277" x2="1308.4" y2="1300.0" stroke="#000" stroke-width="9"/><line x1="1473.5" y1="1277" x2="1473.5" y2="1287.5" stroke="#000" stroke-width="9"/><line x1="1638.5" y1="1277" x2="1638.5" y2="1300.0" stroke="#000" stroke-width="9"/><line x1="1803.6" y1="1277" x2="1803.6" y2="1287.5" stroke="#000" stroke-width="9"/><line x1="1968.6" y1="1277" x2="1968.6" y2="1300.0" stroke="#000" stroke-width="9"/><line x1="1968.5" y1="53" x2="1968.5" y2="1281" stroke="#808080" stroke-width="8"/><line x1="1964.5" y1="1276.6" x2="1992.3" y2="1276.6" stroke="#808080" stroke-width="7.6"/><line x1="1964.5" y1="1154.7" x2="1979.5" y2="1154.7" stroke="#808080" stroke-width="7.6"/><line x1="1964.5" y1="1032.8" x2="1992.3" y2="1032.8" stroke="#808080" stroke-width="7.6"/><line x1="1964.5" y1="911.0" x2="1979.5" y2="911.0" stroke="#808080" stroke-width="7.6"/><line x1="1964.5" y1="789.1" x2="1992.3" y2="789.1" stroke="#808080" stroke-width="7.6"/><line x1="1964.5" y1="667.2" x2="1979.5" y2="667.2" stroke="#808080" stroke-width="7.6"/><line x1="1964.5" y1="545.3" x2="1992.3" y2="545.3" stroke="#808080" stroke-width="7.6"/><line x1="1964.5" y1="423.4" x2="1979.5" y2="423.4" stroke="#808080" stroke-width="7.6"/><line x1="1964.5" y1="301.6" x2="1992.3" y2="301.6" stroke="#808080" stroke-width="7.6"/><line x1="1964.5" y1="179.7" x2="1979.5" y2="179.7" stroke="#808080" stroke-width="7.6"/><line x1="1964.5" y1="57.8" x2="1992.3" y2="57.8" stroke="#808080" stroke-width="7.6"/><g font-family="Liberation Sans, Arial, sans-serif" font-weight="bold"><text transform="translate(275.6 79.1) scale(1 1.054)" font-size="74.2" text-anchor="end" fill="#000">30</text><text transform="translate(275.6 282.2) scale(1 1.054)" font-size="74.2" text-anchor="end" fill="#000">20</text><text transform="translate(275.6 485.3) scale(1 1.054)" font-size="74.2" text-anchor="end" fill="#000">10</text><text transform="translate(275.6 688.4) scale(1 1.054)" font-size="74.2" text-anchor="end" fill="#000">0</text><text transform="translate(275.6 891.5) scale(1 1.054)" font-size="74.2" text-anchor="end" fill="#000">-10</text><text transform="translate(275.6 1094.6) scale(1 1.054)" font-size="74.2" text-anchor="end" fill="#000">-20</text><text transform="translate(275.6 1297.7) scale(1 1.054)" font-size="74.2" text-anchor="end" fill="#000">-30</text><text transform="translate(318.1 1376.5) scale(1 1.054)" font-size="74.2" text-anchor="middle" fill="#000">4</text><text transform="translate(648.2 1376.5) scale(1 1.054)" font-size="74.2" text-anchor="middle" fill="#000">5</text><text transform="translate(978.3 1376.5) scale(1 1.054)" font-size="74.2" text-anchor="middle" fill="#000">6</text><text transform="translate(1308.4 1376.5) scale(1 1.054)" font-size="74.2" text-anchor="middle" fill="#000">7</text><text transform="translate(1638.5 1376.5) scale(1 1.054)" font-size="74.2" text-anchor="middle" fill="#000">8</text><text transform="translate(1968.6 1376.5) scale(1 1.054)" font-size="74.2" text-anchor="middle" fill="#000">9</text><text transform="translate(2010.0 1296.6) scale(1 1.054)" font-size="74.2" text-anchor="start" fill="#808080">0</text><text transform="translate(2010.0 1052.8) scale(1 1.054)" font-size="74.2" text-anchor="start" fill="#808080">20</text><text transform="translate(2010.0 809.1) scale(1 1.054)" font-size="74.2" text-anchor="start" fill="#808080">40</text><text transform="translate(2010.0 565.3) scale(1 1.054)" font-size="74.2" text-anchor="start" fill="#808080">60</text><text transform="translate(2010.0 321.6) scale(1 1.054)" font-size="74.2" text-anchor="start" fill="#808080">80</text><text transform="translate(2010.0 77.8) scale(1 1.054)" font-size="74.2" text-anchor="start" fill="#808080">100</text><rect x="196.8" y="476.7" width="13.3" height="10.1" fill="#fff"/><rect x="220.8" y="476.7" width="12.3" height="10.1" fill="#fff"/><rect x="196.8" y="882.9" width="13.3" height="10.1" fill="#fff"/><rect x="220.8" y="882.9" width="12.3" height="10.1" fill="#fff"/><rect x="2013.7" y="69.2" width="13.3" height="10.1" fill="#fff"/><rect x="2037.8" y="69.2" width="12.3" height="10.1" fill="#fff"/><text transform="translate(97.3 666.3) rotate(-90) scale(1 1.000)" font-size="77.0" text-anchor="middle" fill="#000">Zeta potential (mV)</text><text transform="translate(2209.8 666.0) rotate(-90) scale(1 1.000)" font-size="77.0" text-anchor="middle" fill="#808080">Free ligand (%)</text><text transform="translate(1142.3 1503.9) scale(1 1.030)" font-size="76.0" text-anchor="middle" fill="#000">pH</text></g><line x1="349" y1="797.6" x2="390" y2="797.6" stroke="#000000" stroke-width="9" stroke-linecap="round"/><line x1="443.5" y1="797.6" x2="484" y2="797.6" stroke="#000000" stroke-width="9" stroke-linecap="round"/><rect x="400.2" y="781.1" width="32.0" height="32.0" fill="#fff" stroke="#000000" stroke-width="3"/><line x1="349" y1="885.5" x2="390" y2="885.5" stroke="#9c00cc" stroke-width="9" stroke-linecap="round"/><line x1="443.5" y1="885.5" x2="484" y2="885.5" stroke="#9c00cc" stroke-width="9" stroke-linecap="round"/><circle cx="416.2" cy="885.0" r="18" fill="#fff" stroke="#9c00cc" stroke-width="2.6"/><line x1="349" y1="972.8" x2="390" y2="972.8" stroke="#6600dd" stroke-width="9" stroke-linecap="round"/><line x1="443.5" y1="972.8" x2="484" y2="972.8" stroke="#6600dd" stroke-width="9" stroke-linecap="round"/><polygon points="416.2,946.0 439.0,985.5 393.4,985.5" fill="#fff" stroke="#6600dd" stroke-width="2.6" stroke-linejoin="miter"/><line x1="349" y1="1060.0" x2="390" y2="1060.0" stroke="#800080" stroke-width="9" stroke-linecap="round"/><line x1="443.5" y1="1060.0" x2="484" y2="1060.0" stroke="#800080" stroke-width="9" stroke-linecap="round"/><polygon points="416.2,1035.8 439.4,1060.0 416.2,1084.2 393.0,1060.0" fill="#fff" stroke="#800080" stroke-width="2.6"/><line x1="349" y1="1147.0" x2="390" y2="1147.0" stroke="#f0047f" stroke-width="9" stroke-linecap="round"/><line x1="443.5" y1="1147.0" x2="484" y2="1147.0" stroke="#f0047f" stroke-width="9" stroke-linecap="round"/><polygon points="416.2,1123.8 421.3,1139.5 437.8,1139.5 424.4,1149.2 429.5,1164.9 416.2,1155.2 402.9,1164.9 408.0,1149.2 394.6,1139.5 411.1,1139.5" fill="#f0047f" stroke="#f0047f" stroke-width="1"/><g font-family="Liberation Sans, Arial, sans-serif" font-weight="bold"><text transform="translate(503.2 817.4) scale(1 1.000)" font-size="69.4" text-anchor="start" fill="#000">IIw + dAMP</text><text transform="translate(503.2 906.1) scale(1 1.000)" font-size="69.4" text-anchor="start" fill="#000">IIw + dCMP</text><text transform="translate(503.2 991.0) scale(1 1.000)" font-size="69.4" text-anchor="start" fill="#000">IIw + dGMP</text><text transform="translate(503.2 1079.6) scale(1 1.000)" font-size="69.4" text-anchor="start" fill="#000">IIw + TMP</text><text transform="translate(503.2 1167.8) scale(1 1.000)" font-size="69.4" text-anchor="start" fill="#000">IIw +</text><text transform="translate(665.5 1167.8) scale(1 1.000)" font-size="69.4" text-anchor="start" fill="#000">dNMP</text><text transform="translate(879.7 1167.8) scale(1 1.000)" font-size="69.4" text-anchor="start" fill="#000" textLength="116.4" lengthAdjust="spacingAndGlyphs">mix</text></g></svg>
</body></html>
